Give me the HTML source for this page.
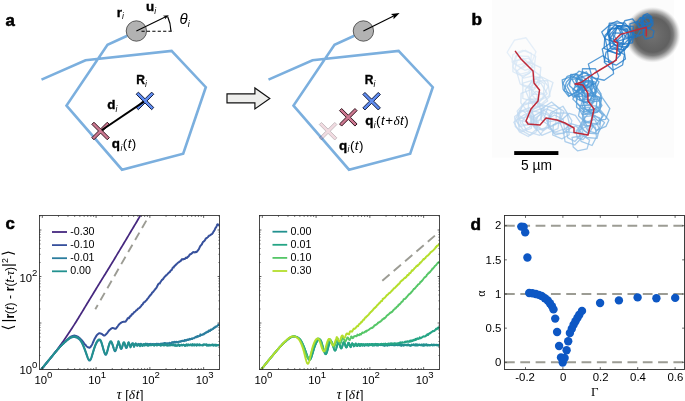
<!DOCTYPE html>
<html><head><meta charset="utf-8"><title>figure</title>
<style>html,body{margin:0;padding:0;background:#fff}svg{display:block}</style>
</head><body>
<svg width="685" height="401" viewBox="0 0 685 401">
<rect width="685" height="401" fill="#fff"/>
<polyline points="41.5,79.6 85.5,60.2 171.6,50.9 205.8,87.2 183.2,153.7 122,169.7 66.5,105.6 107.5,44.8 127.3,35.8" fill="none" stroke="#7bafde" stroke-width="2.6" stroke-linejoin="miter"/>
<circle cx="136.4" cy="31" r="10.2" fill="#b2b2b2" stroke="#3a3a3a" stroke-width="0.8"/>
<polyline points="268.5,79.6 312.5,60.2 398.6,50.9 432.8,87.2 410.2,153.7 349,169.7 293.5,105.6 334.5,44.8 354.3,35.8" fill="none" stroke="#7bafde" stroke-width="2.6" stroke-linejoin="miter"/>
<circle cx="363.4" cy="31" r="10.2" fill="#b2b2b2" stroke="#3a3a3a" stroke-width="0.8"/>
<line x1="136.4" y1="31" x2="165.2" y2="16.95" stroke="#000" stroke-width="1.05"/><polygon points="168.8,15.2 164.82,19.59 165.2,16.95 162.89,15.63" fill="#000"/>
<line x1="141.5" y1="31.2" x2="174" y2="31.2" stroke="#000" stroke-width="1.1" stroke-dasharray="3.2,2.2"/>
<path d="M167.6,16.5 Q170.6,23 171,31.2" fill="none" stroke="#000" stroke-width="1.2"/>
<line x1="363.4" y1="31" x2="393.6" y2="15.98" stroke="#000" stroke-width="1.2"/><polygon points="399.6,13 393.55,19.25 393.6,15.98 390.97,14.05" fill="#000"/>
<polygon points="107.25,122.23 109.37,124.35 102.72,131 109.37,137.65 107.25,139.77 100.6,133.12 93.95,139.77 91.83,137.65 98.48,131 91.83,124.35 93.95,122.23 100.6,128.88" fill="#cc7890" stroke="#2c0e18" stroke-width="0.95" stroke-linejoin="miter" opacity="1.0"/>
<polygon points="151.65,92.13 153.77,94.25 147.12,100.9 153.77,107.55 151.65,109.67 145,103.02 138.35,109.67 136.23,107.55 142.88,100.9 136.23,94.25 138.35,92.13 145,98.78" fill="#5f8cf0" stroke="#0e1738" stroke-width="0.95" stroke-linejoin="miter" opacity="1.0"/>
<line x1="101.6" y1="130.3" x2="144" y2="101.6" stroke="#000" stroke-width="1.9"/>
<polygon points="334.75,122.43 336.87,124.55 330.22,131.2 336.87,137.85 334.75,139.97 328.1,133.32 321.45,139.97 319.33,137.85 325.98,131.2 319.33,124.55 321.45,122.43 328.1,129.08" fill="#cc7890" stroke="#2c0e18" stroke-width="0.95" stroke-linejoin="miter" opacity="0.27"/>
<polygon points="354.95,108.53 357.07,110.65 350.42,117.3 357.07,123.95 354.95,126.07 348.3,119.42 341.65,126.07 339.53,123.95 346.18,117.3 339.53,110.65 341.65,108.53 348.3,115.18" fill="#cc7890" stroke="#2c0e18" stroke-width="0.95" stroke-linejoin="miter" opacity="1.0"/>
<polygon points="378.25,92.43 380.37,94.55 373.72,101.2 380.37,107.85 378.25,109.97 371.6,103.32 364.95,109.97 362.83,107.85 369.48,101.2 362.83,94.55 364.95,92.43 371.6,99.08" fill="#5f8cf0" stroke="#0e1738" stroke-width="0.95" stroke-linejoin="miter" opacity="1.0"/>
<polygon points="227,93.9 254.9,93.9 254.9,87.9 269.8,98.4 254.9,108.9 254.9,102.9 227,102.9" fill="#eeeeec" stroke="#111" stroke-width="1.2"/>
<text x="5.4" y="25.7" font-family='"Liberation Sans", sans-serif' font-size="16.8" font-weight="bold" font-style="normal" text-anchor="start" stroke="#000" stroke-width="0.55">a</text>
<text x="471.4" y="25.4" font-family='"Liberation Sans", sans-serif' font-size="17.2" font-weight="bold" font-style="normal" text-anchor="start" stroke="#000" stroke-width="0.55">b</text>
<text x="5.4" y="229.2" font-family='"Liberation Sans", sans-serif' font-size="16.8" font-weight="bold" font-style="normal" text-anchor="start" stroke="#000" stroke-width="0.55">c</text>
<text x="470.6" y="229.7" font-family='"Liberation Sans", sans-serif' font-size="17.2" font-weight="bold" font-style="normal" text-anchor="start" stroke="#000" stroke-width="0.55">d</text>
<text x="116.8" y="16.5" font-family='"Liberation Sans", sans-serif' font-size="13.4" font-weight="bold" font-style="normal" text-anchor="start" ><tspan stroke="#000" stroke-width="0.35">r</tspan><tspan font-weight="normal" font-style="italic" font-size="8.5" dy="2.8">i</tspan></text>
<text x="146" y="11.3" font-family='"Liberation Sans", sans-serif' font-size="13.4" font-weight="bold" font-style="normal" text-anchor="start" ><tspan stroke="#000" stroke-width="0.35">u</tspan><tspan font-weight="normal" font-style="italic" font-size="8.5" dy="2.8">i</tspan></text>
<text x="179.5" y="24" font-family='"Liberation Sans", sans-serif' font-size="15" font-weight="normal" font-style="italic" text-anchor="start" >θ<tspan font-size="9" dy="3">i</tspan></text>
<text x="136.3" y="84" font-family='"Liberation Sans", sans-serif' font-size="12" font-weight="bold" font-style="normal" text-anchor="start" ><tspan stroke="#000" stroke-width="0.35">R</tspan><tspan font-weight="normal" font-style="italic" font-size="8.5" dy="2.8">i</tspan></text>
<text x="107.2" y="109.2" font-family='"Liberation Sans", sans-serif' font-size="13.4" font-weight="bold" font-style="normal" text-anchor="start" ><tspan stroke="#000" stroke-width="0.35">d</tspan><tspan font-weight="normal" font-style="italic" font-size="8.5" dy="2.8">i</tspan></text>
<text x="111.8" y="148.3" font-family='"Liberation Sans", sans-serif' font-size="13.4" font-weight="bold" font-style="normal" text-anchor="start" letter-spacing="0.4"><tspan stroke="#000" stroke-width="0.35">q</tspan><tspan font-weight="normal" font-style="italic" font-size="8.5" dy="2.8">i</tspan><tspan dy="-2.8" font-weight="normal" letter-spacing="0.5">(</tspan><tspan font-weight="normal" font-style="italic">t</tspan><tspan font-weight="normal">)</tspan></text>
<text x="364.8" y="84" font-family='"Liberation Sans", sans-serif' font-size="12" font-weight="bold" font-style="normal" text-anchor="start" ><tspan stroke="#000" stroke-width="0.35">R</tspan><tspan font-weight="normal" font-style="italic" font-size="8.5" dy="2.8">i</tspan></text>
<text x="365.2" y="125" font-family='"Liberation Sans", sans-serif' font-size="13.4" font-weight="bold" font-style="normal" text-anchor="start" letter-spacing="0.4"><tspan stroke="#000" stroke-width="0.35">q</tspan><tspan font-weight="normal" font-style="italic" font-size="8.5" dy="2.8">i</tspan><tspan dy="-2.8" font-weight="normal" letter-spacing="0.5">(</tspan><tspan font-weight="normal" font-style="italic">t</tspan><tspan font-weight="normal">+</tspan><tspan font-weight="normal" font-style="italic" font-family='"Liberation Serif", serif'>δ</tspan><tspan font-weight="normal" font-style="italic">t</tspan><tspan font-weight="normal">)</tspan></text>
<text x="339" y="149.5" font-family='"Liberation Sans", sans-serif' font-size="13.4" font-weight="bold" font-style="normal" text-anchor="start" letter-spacing="0.4"><tspan stroke="#000" stroke-width="0.35">q</tspan><tspan font-weight="normal" font-style="italic" font-size="8.5" dy="2.8">i</tspan><tspan dy="-2.8" font-weight="normal" letter-spacing="0.5">(</tspan><tspan font-weight="normal" font-style="italic">t</tspan><tspan font-weight="normal">)</tspan></text>
<rect x="492" y="0" width="182" height="157.5" fill="#fcfcfc"/>
<defs><radialGradient id="gb" cx="50%" cy="50%" r="50%"><stop offset="0" stop-color="#727272"/><stop offset="0.4" stop-color="#666666"/><stop offset="0.62" stop-color="#606060"/><stop offset="0.74" stop-color="#707070" stop-opacity="0.92"/><stop offset="0.87" stop-color="#969696" stop-opacity="0.6"/><stop offset="1" stop-color="#c8c8c8" stop-opacity="0"/></radialGradient></defs>
<circle cx="652.6" cy="34.8" r="28" fill="url(#gb)"/>
<polygon points="532.24,61.21 516.56,65.53 507.12,52.26 514.47,40.1 526.05,37.76 536.03,51.84" fill="none" stroke="rgb(222,235,247)" stroke-width="1.3" stroke-linejoin="round" stroke-opacity="0.8"/>
<polygon points="530.68,62.94 521.99,68.76 511.95,61.99 512.91,54.51 522.74,50.41 531.36,53.39" fill="none" stroke="rgb(220,234,246)" stroke-width="1.3" stroke-linejoin="round" stroke-opacity="0.8"/>
<polygon points="534.21,66.93 525.07,70.45 514.8,63.67 516.87,54 525.34,50.23 535.65,56.25" fill="none" stroke="rgb(218,233,246)" stroke-width="1.3" stroke-linejoin="round" stroke-opacity="0.8"/>
<polygon points="528.38,72.05 518.35,74.69 512.75,66.87 515.67,55.92 528.48,56.29 532.77,64.58" fill="none" stroke="rgb(217,232,246)" stroke-width="1.3" stroke-linejoin="round" stroke-opacity="0.8"/>
<polygon points="534.16,75.62 523.68,78.2 515,68.78 517.19,60.33 528.65,58.21 534.8,64.84" fill="none" stroke="rgb(216,231,246)" stroke-width="1.3" stroke-linejoin="round" stroke-opacity="0.8"/>
<polygon points="529.31,73.47 521.93,75.94 512.93,71.77 512.91,61.51 523.1,58.43 532.54,66.56" fill="none" stroke="rgb(214,230,245)" stroke-width="1.3" stroke-linejoin="round" stroke-opacity="0.8"/>
<polygon points="540.03,76.34 534.35,88.07 520.27,84.1 516.44,71.16 528.76,62.11 540.81,67.64" fill="none" stroke="rgb(211,228,244)" stroke-width="1.3" stroke-linejoin="round" stroke-opacity="0.8"/>
<polygon points="539.16,84.01 533.54,90.04 522.27,85.29 522.32,77.74 533.15,70.16 540.42,75.87" fill="none" stroke="rgb(209,227,244)" stroke-width="1.3" stroke-linejoin="round" stroke-opacity="0.8"/>
<polygon points="548.27,86.53 544.05,94.21 533.17,94.46 529.16,85.61 534.14,76.76 541.78,77.78" fill="none" stroke="rgb(208,226,244)" stroke-width="1.3" stroke-linejoin="round" stroke-opacity="0.8"/>
<polygon points="543,97.65 535.15,102.16 522.82,98.39 522.91,83.07 536.6,79.09 544.54,83.73" fill="none" stroke="rgb(207,226,243)" stroke-width="1.3" stroke-linejoin="round" stroke-opacity="0.8"/>
<polygon points="548.91,96.03 537.56,101.52 531.24,93.97 532.73,79.71 541.25,76.72 552.99,82.49" fill="none" stroke="rgb(207,226,243)" stroke-width="1.3" stroke-linejoin="round" stroke-opacity="0.8"/>
<polygon points="549.98,96.34 541.27,104.13 529.9,98.64 529.03,87.37 539.62,80.9 547.66,80.69" fill="none" stroke="rgb(206,225,243)" stroke-width="1.3" stroke-linejoin="round" stroke-opacity="0.8"/>
<polygon points="547.16,93.53 538.13,103.3 530.05,101.5 525.22,89.73 532.44,81.2 540.88,83.27" fill="none" stroke="rgb(204,224,243)" stroke-width="1.3" stroke-linejoin="round" stroke-opacity="0.8"/>
<polygon points="547.68,100.94 539.11,106.61 533.02,105.7 529.5,97.9 535.75,91.35 543.67,93.96" fill="none" stroke="rgb(203,223,243)" stroke-width="1.3" stroke-linejoin="round" stroke-opacity="0.8"/>
<polygon points="537.67,106.03 527.3,111.04 520.87,102.86 521.11,93.27 531.4,89.51 537.17,94.86" fill="none" stroke="rgb(201,222,242)" stroke-width="1.3" stroke-linejoin="round" stroke-opacity="0.8"/>
<polygon points="541.41,111.75 533.37,123.72 519.96,120.29 517.19,111.19 527.28,99.51 537.64,98.83" fill="none" stroke="rgb(200,221,242)" stroke-width="1.3" stroke-linejoin="round" stroke-opacity="0.8"/>
<polygon points="540.09,114.73 535.28,118.31 527.81,114.93 528.71,101.97 535.22,101.38 544.5,107.29" fill="none" stroke="rgb(199,221,242)" stroke-width="1.3" stroke-linejoin="round" stroke-opacity="0.8"/>
<polygon points="540.42,119.67 529.43,123.84 519.03,115.19 522.2,105.58 536.66,100.85 544.22,108.18" fill="none" stroke="rgb(198,220,241)" stroke-width="1.3" stroke-linejoin="round" stroke-opacity="0.8"/>
<polygon points="543.4,114.5 535.73,124.8 521.15,124.53 517.73,113.85 524.28,103.15 537.22,103.17" fill="none" stroke="rgb(197,220,241)" stroke-width="1.3" stroke-linejoin="round" stroke-opacity="0.8"/>
<polygon points="531.85,123.88 519.5,126.68 515.56,119.04 519.63,111.57 529.71,107.53 533.8,115.2" fill="none" stroke="rgb(195,219,241)" stroke-width="1.3" stroke-linejoin="round" stroke-opacity="0.8"/>
<polygon points="531.18,128.51 521.47,131.95 515.31,126.41 514.7,116.5 523,110.7 531.94,118.59" fill="none" stroke="rgb(194,218,241)" stroke-width="1.3" stroke-linejoin="round" stroke-opacity="0.8"/>
<polygon points="529.32,127.34 523.41,130.02 516.74,121.38 519.92,110.44 530.92,111.88 535.88,118.74" fill="none" stroke="rgb(194,217,240)" stroke-width="1.3" stroke-linejoin="round" stroke-opacity="0.8"/>
<polygon points="536.03,132.03 530.11,135.38 519.06,128.92 518.34,119.22 527.8,116.41 538.25,122.68" fill="none" stroke="rgb(193,217,240)" stroke-width="1.3" stroke-linejoin="round" stroke-opacity="0.8"/>
<polygon points="537.23,128.48 528.33,136.48 519.46,131.87 513.74,122.28 524.49,114.55 533.21,116.34" fill="none" stroke="rgb(192,216,240)" stroke-width="1.3" stroke-linejoin="round" stroke-opacity="0.8"/>
<polygon points="548.36,123.86 539.76,135.37 526.98,131.33 521.93,121.51 530.18,110.39 542.93,113.12" fill="none" stroke="rgb(191,216,240)" stroke-width="1.3" stroke-linejoin="round" stroke-opacity="0.8"/>
<polygon points="548.22,127.17 536.58,130.4 530.58,122.54 530.58,112.79 541.65,108.4 548.95,114.18" fill="none" stroke="rgb(189,215,239)" stroke-width="1.3" stroke-linejoin="round" stroke-opacity="0.8"/>
<polygon points="550.15,126.3 543.16,130.7 536.23,124.49 537.13,116.81 543.37,112.79 550.61,116.33" fill="none" stroke="rgb(185,213,238)" stroke-width="1.3" stroke-linejoin="round" stroke-opacity="0.8"/>
<polygon points="555.69,124.56 541.07,129.81 531.12,123.4 532.51,109.6 542.96,104.84 556.82,109.5" fill="none" stroke="rgb(184,212,238)" stroke-width="1.3" stroke-linejoin="round" stroke-opacity="0.8"/>
<polygon points="557.98,128.53 541.82,135.4 533.83,125.74 533.42,116.17 546.43,108.85 560.08,114.46" fill="none" stroke="rgb(178,209,237)" stroke-width="1.3" stroke-linejoin="round" stroke-opacity="0.8"/>
<polygon points="560.49,119.4 548.74,121.84 544.06,117.66 548.2,106.68 554.4,104.79 563.93,111.39" fill="none" stroke="rgb(177,208,237)" stroke-width="1.3" stroke-linejoin="round" stroke-opacity="0.8"/>
<polygon points="560.41,120.77 550.74,126.59 541.02,119.82 541.31,109.03 551.6,101.97 560.94,110.02" fill="none" stroke="rgb(173,206,236)" stroke-width="1.3" stroke-linejoin="round" stroke-opacity="0.8"/>
<polygon points="564.47,128.76 555.36,132.09 548.64,128.45 547.62,119.25 554.54,114.98 563.14,119.53" fill="none" stroke="rgb(170,204,235)" stroke-width="1.3" stroke-linejoin="round" stroke-opacity="0.8"/>
<polygon points="569.23,123.33 563.97,133.65 553.59,132.86 547.2,121.48 552.58,113.18 566.81,112.82" fill="none" stroke="rgb(168,203,235)" stroke-width="1.3" stroke-linejoin="round" stroke-opacity="0.8"/>
<polygon points="569.01,131.31 555.38,134.83 547.47,124.19 550.54,112.95 562.89,106.2 571.83,120.59" fill="none" stroke="rgb(164,201,234)" stroke-width="1.3" stroke-linejoin="round" stroke-opacity="0.8"/>
<polygon points="569.19,134.74 561.88,138.84 552.73,135 553.3,124.62 561.61,122.43 568.18,125.64" fill="none" stroke="rgb(158,198,233)" stroke-width="1.3" stroke-linejoin="round" stroke-opacity="0.8"/>
<polygon points="582.1,125.16 575.93,132.91 563.66,131.63 559.64,121.66 569.06,113.35 575.37,115.42" fill="none" stroke="rgb(154,195,232)" stroke-width="1.3" stroke-linejoin="round" stroke-opacity="0.8"/>
<polygon points="583.64,136.04 574.7,144.92 565.09,141.56 563.19,130.51 570.82,123.72 581.16,126.56" fill="none" stroke="rgb(150,193,231)" stroke-width="1.3" stroke-linejoin="round" stroke-opacity="0.8"/>
<polygon points="581.08,134.49 574.85,141.47 567.62,137.58 566.5,129.98 575.53,125.99 578.41,128.05" fill="none" stroke="rgb(148,192,231)" stroke-width="1.3" stroke-linejoin="round" stroke-opacity="0.8"/>
<polygon points="587.06,148.88 577.49,150.81 573.21,146.98 572.08,137.49 582.84,135.7 589.6,140.05" fill="none" stroke="rgb(144,190,230)" stroke-width="1.3" stroke-linejoin="round" stroke-opacity="0.8"/>
<polygon points="589.07,132.93 583.05,139.63 577.25,137.94 576.14,131.04 581.83,124.26 587.65,126.22" fill="none" stroke="rgb(139,187,229)" stroke-width="1.3" stroke-linejoin="round" stroke-opacity="0.8"/>
<polygon points="596.43,136.94 592.08,145.5 581.1,141.4 578.46,130.77 587.19,125.92 595.42,127.18" fill="none" stroke="rgb(138,187,229)" stroke-width="1.3" stroke-linejoin="round" stroke-opacity="0.8"/>
<polygon points="596.93,138.47 586.77,137.52 579.58,130.87 584.53,122.92 594.6,119.42 599.52,128.84" fill="none" stroke="rgb(132,183,227)" stroke-width="1.3" stroke-linejoin="round" stroke-opacity="0.8"/>
<polygon points="593.11,126.32 589.21,133.24 583.99,130.88 580.99,125.13 584.59,120.72 591.5,122.6" fill="none" stroke="rgb(130,182,227)" stroke-width="1.3" stroke-linejoin="round" stroke-opacity="0.8"/>
<polygon points="600.15,126.83 595.07,132.78 588,130.86 582.63,121.2 587.99,113.98 599.82,117.81" fill="none" stroke="rgb(125,179,226)" stroke-width="1.3" stroke-linejoin="round" stroke-opacity="0.8"/>
<polygon points="597.51,133.77 587.23,133.14 579.74,125.99 584.84,116.57 594.94,115.47 604.53,122.56" fill="none" stroke="rgb(121,177,225)" stroke-width="1.3" stroke-linejoin="round" stroke-opacity="0.8"/>
<polygon points="591.34,122.12 584.99,122.08 578.51,115.83 579.92,108.93 589.03,107.37 594.04,115.57" fill="none" stroke="rgb(118,176,224)" stroke-width="1.3" stroke-linejoin="round" stroke-opacity="0.8"/>
<polygon points="606.02,126.3 596.16,130.34 590.5,122.46 592.9,112.69 600.92,110.77 608.83,120.29" fill="none" stroke="rgb(115,174,223)" stroke-width="1.3" stroke-linejoin="round" stroke-opacity="0.8"/>
<polygon points="602.32,115.29 599.74,124.06 586.02,122.71 582.38,114.27 585.31,105.47 596.88,106.05" fill="none" stroke="rgb(109,171,222)" stroke-width="1.3" stroke-linejoin="round" stroke-opacity="0.8"/>
<polygon points="596.24,124.53 587.09,125.91 582.34,117.81 584.25,109.55 595.74,109.53 604.02,114.85" fill="none" stroke="rgb(106,169,221)" stroke-width="1.3" stroke-linejoin="round" stroke-opacity="0.8"/>
<polygon points="605.61,119.35 597.2,120.32 588.56,110.05 594.95,99.83 602.45,97.86 609.87,108.58" fill="none" stroke="rgb(103,167,220)" stroke-width="1.3" stroke-linejoin="round" stroke-opacity="0.8"/>
<polygon points="600.58,106.75 591.44,113.48 585.74,109.43 582.35,99.84 590.32,94.84 599.03,96.87" fill="none" stroke="rgb(99,165,220)" stroke-width="1.3" stroke-linejoin="round" stroke-opacity="0.8"/>
<polygon points="597.35,112.42 582.54,114.97 579.29,109.5 584.43,95.65 592.83,92.12 601.98,105.43" fill="none" stroke="rgb(95,163,219)" stroke-width="1.3" stroke-linejoin="round" stroke-opacity="0.8"/>
<polygon points="600.17,110.15 592.21,113.88 582.24,106.9 585.3,96.72 593.41,95.17 601.34,98.43" fill="none" stroke="rgb(94,162,218)" stroke-width="1.3" stroke-linejoin="round" stroke-opacity="0.8"/>
<polygon points="596.13,108.21 585.53,113.84 576.6,107.2 576.65,94.9 585.72,89.46 597.27,96.48" fill="none" stroke="rgb(90,160,217)" stroke-width="1.3" stroke-linejoin="round" stroke-opacity="0.8"/>
<polygon points="599.13,106.95 584.97,111.87 576.11,102.38 580.33,88.8 591.7,85.59 601.79,96.33" fill="none" stroke="rgb(88,159,217)" stroke-width="1.3" stroke-linejoin="round" stroke-opacity="0.8"/>
<polygon points="591.03,104.38 580.18,105.94 572.78,99.14 579.35,87.68 589.39,87.25 594.11,98.79" fill="none" stroke="rgb(85,157,216)" stroke-width="1.3" stroke-linejoin="round" stroke-opacity="0.8"/>
<polygon points="594.31,97.24 587,101.84 579.88,100.34 578.52,90.76 582.69,86.51 590.39,86.92" fill="none" stroke="rgb(83,156,216)" stroke-width="1.3" stroke-linejoin="round" stroke-opacity="0.8"/>
<polygon points="599.08,100.83 589.2,102.39 583.45,92.3 588.42,83.18 593.39,82.12 601.12,94.17" fill="none" stroke="rgb(80,154,215)" stroke-width="1.3" stroke-linejoin="round" stroke-opacity="0.8"/>
<polygon points="590.46,99.45 582.98,99.91 581.86,93.47 584.64,86.58 590.13,88.11 593.35,93.61" fill="none" stroke="rgb(79,154,215)" stroke-width="1.3" stroke-linejoin="round" stroke-opacity="0.8"/>
<polygon points="597.08,90.63 594.18,96.63 585.1,94.83 580.66,85.65 585.22,80.78 595.2,81.84" fill="none" stroke="rgb(74,151,214)" stroke-width="1.3" stroke-linejoin="round" stroke-opacity="0.8"/>
<polygon points="595.33,91.94 587.34,103.43 576.59,98.68 572.69,89.63 581.87,81.63 592.95,83.55" fill="none" stroke="rgb(73,150,213)" stroke-width="1.3" stroke-linejoin="round" stroke-opacity="0.8"/>
<polygon points="595.21,99.04 584.11,102.99 576.8,94.69 579.09,82.47 588.96,80.65 595.92,87.85" fill="none" stroke="rgb(71,149,213)" stroke-width="1.3" stroke-linejoin="round" stroke-opacity="0.8"/>
<polygon points="593.74,86.42 589.64,94.31 582.08,92.08 578.97,87.16 583.11,81.1 591.4,80.65" fill="none" stroke="rgb(70,148,212)" stroke-width="1.3" stroke-linejoin="round" stroke-opacity="0.8"/>
<polygon points="594.68,92.23 585.13,96.97 573.83,89.16 578.2,77.88 589.92,74.73 598.98,81.71" fill="none" stroke="rgb(69,148,212)" stroke-width="1.3" stroke-linejoin="round" stroke-opacity="0.8"/>
<polygon points="590.6,89.84 582.01,90.49 577.11,85.13 576.89,76.72 586.39,71.75 592.75,81.38" fill="none" stroke="rgb(68,147,212)" stroke-width="1.3" stroke-linejoin="round" stroke-opacity="0.8"/>
<polygon points="582.18,96.2 573.03,97.01 566.97,86.08 571.1,79.29 579.67,78.67 585.9,85.77" fill="none" stroke="rgb(66,146,211)" stroke-width="1.3" stroke-linejoin="round" stroke-opacity="0.8"/>
<polygon points="582.51,92.51 575.07,95.8 564.15,90.76 566.36,82.26 572.37,75.73 581.93,80.93" fill="none" stroke="rgb(65,145,211)" stroke-width="1.3" stroke-linejoin="round" stroke-opacity="0.8"/>
<polygon points="580.38,89.41 568.78,96.5 563.13,89.28 562.21,79.94 570.99,76.72 580.76,80.14" fill="none" stroke="rgb(64,145,210)" stroke-width="1.3" stroke-linejoin="round" stroke-opacity="0.8"/>
<polygon points="578.08,91.62 569.08,95.74 563.03,83.04 567.22,76.39 575.85,73.52 583.97,83.26" fill="none" stroke="rgb(63,144,210)" stroke-width="1.3" stroke-linejoin="round" stroke-opacity="0.8"/>
<polygon points="584.57,84.55 575.64,91.26 569.6,85.78 570.81,74.37 578.63,75.01 586.19,79.19" fill="none" stroke="rgb(62,143,210)" stroke-width="1.3" stroke-linejoin="round" stroke-opacity="0.8"/>
<polygon points="588.68,83.77 582.8,87.75 576.41,86.57 571.67,78.8 578.87,71.23 588.08,74.25" fill="none" stroke="rgb(61,142,209)" stroke-width="1.3" stroke-linejoin="round" stroke-opacity="0.8"/>
<polygon points="593.28,84.08 583.67,90.65 577.94,85.96 575.57,80.33 582.9,71.72 591.28,75.87" fill="none" stroke="rgb(58,140,208)" stroke-width="1.3" stroke-linejoin="round" stroke-opacity="0.8"/>
<polygon points="595.6,83.67 584.87,85.8 581.82,78.68 582.52,68.67 595.44,68.73 598.75,76.33" fill="none" stroke="rgb(52,136,206)" stroke-width="1.3" stroke-linejoin="round" stroke-opacity="0.8"/>
<polygon points="613.58,73.72 604.22,80.24 592.22,77.68 588.37,64.06 602.62,55.73 612.28,62.23" fill="none" stroke="rgb(44,130,204)" stroke-width="1.3" stroke-linejoin="round" stroke-opacity="0.8"/>
<polygon points="622.58,64.95 612.98,70.22 604.27,62.15 606.06,52.14 614.74,48.63 624.45,54.79" fill="none" stroke="rgb(35,124,201)" stroke-width="1.3" stroke-linejoin="round" stroke-opacity="0.8"/>
<polygon points="620.31,55.06 613.12,62.66 604.72,61.1 602.23,48.99 610.62,42.75 617.8,46.16" fill="none" stroke="rgb(32,122,200)" stroke-width="1.3" stroke-linejoin="round" stroke-opacity="0.8"/>
<polygon points="625.46,59.06 616.23,65.19 608.84,62.6 607.39,50.58 613.98,44.67 623.54,47.92" fill="none" stroke="rgb(32,121,200)" stroke-width="1.3" stroke-linejoin="round" stroke-opacity="0.8"/>
<polygon points="623.59,42.6 620.73,49.93 610.66,48.33 609.02,40.85 613.39,32.93 622.17,33.25" fill="none" stroke="rgb(31,120,199)" stroke-width="1.3" stroke-linejoin="round" stroke-opacity="0.8"/>
<polygon points="629.95,41.86 618.82,54.38 604.07,48.43 604.92,35.35 614.81,25.29 626.96,28.62" fill="none" stroke="rgb(31,120,199)" stroke-width="1.3" stroke-linejoin="round" stroke-opacity="0.8"/>
<polygon points="628.88,45.1 619.82,54.29 607.89,50.91 604.98,37.43 612.03,27.77 627.87,29.81" fill="none" stroke="rgb(31,120,199)" stroke-width="1.3" stroke-linejoin="round" stroke-opacity="0.8"/>
<polygon points="630.52,37.38 624.01,43.99 614.05,41.37 612.97,33.3 618.58,26.17 626.22,30.89" fill="none" stroke="rgb(31,120,199)" stroke-width="1.3" stroke-linejoin="round" stroke-opacity="0.8"/>
<polygon points="622.52,35.56 615.13,42.2 605.05,38.96 601.72,32.03 609.04,25.57 616.2,24.46" fill="none" stroke="rgb(31,120,199)" stroke-width="1.3" stroke-linejoin="round" stroke-opacity="0.8"/>
<polygon points="633.58,36.46 624.34,50.3 610.3,46.18 609.83,34.96 617.32,25.82 633.36,26.46" fill="none" stroke="rgb(31,119,199)" stroke-width="1.3" stroke-linejoin="round" stroke-opacity="0.8"/>
<polygon points="622.26,42.39 616.05,46.08 608.96,38.45 608.19,29.96 618.45,27.87 627.44,32.31" fill="none" stroke="rgb(30,119,198)" stroke-width="1.3" stroke-linejoin="round" stroke-opacity="0.8"/>
<polygon points="627.53,47.22 615.44,45.46 607.29,34.01 609.34,23.22 624.91,22.79 633.09,33.46" fill="none" stroke="rgb(30,119,198)" stroke-width="1.3" stroke-linejoin="round" stroke-opacity="0.8"/>
<polygon points="631.16,37.2 618.19,41.23 609.65,37.76 609.94,24.43 617.18,21.02 629.49,27.49" fill="none" stroke="rgb(30,119,198)" stroke-width="1.3" stroke-linejoin="round" stroke-opacity="0.8"/>
<polygon points="632.44,42.75 619.61,44.99 614.43,36.28 617.34,25.58 627.94,25.82 633.87,35.17" fill="none" stroke="rgb(30,118,198)" stroke-width="1.3" stroke-linejoin="round" stroke-opacity="0.8"/>
<polygon points="636.38,37.17 625.68,37.14 620.51,29.3 624.73,20.75 632.56,18.99 640.71,29.38" fill="none" stroke="rgb(29,117,197)" stroke-width="1.3" stroke-linejoin="round" stroke-opacity="0.8"/>
<polygon points="643.4,33.89 638.18,36.14 630.89,32.25 629.84,23.95 637.53,21.61 642.96,24.43" fill="none" stroke="rgb(29,117,197)" stroke-width="1.3" stroke-linejoin="round" stroke-opacity="0.8"/>
<polygon points="650.21,22.35 646.26,23.76 642,21.86 643.22,15.28 647.49,13.68 651.76,16.77" fill="none" stroke="rgb(29,116,197)" stroke-width="1.3" stroke-linejoin="round" stroke-opacity="0.8"/>
<polygon points="647.86,23.1 644.56,27.04 639.43,27.24 637.04,22.2 640.36,17.64 644.3,19.05" fill="none" stroke="rgb(28,116,196)" stroke-width="1.3" stroke-linejoin="round" stroke-opacity="0.8"/>
<polygon points="652.29,23.1 650.15,27.61 642.95,27.54 640.56,22.93 643.77,18.23 648.46,17.86" fill="none" stroke="rgb(28,116,196)" stroke-width="1.3" stroke-linejoin="round" stroke-opacity="0.8"/>
<polygon points="651.51,22.14 646.08,26 642.96,24.47 640.26,18.89 645.03,14.94 650.43,16.46" fill="none" stroke="rgb(28,115,196)" stroke-width="1.3" stroke-linejoin="round" stroke-opacity="0.8"/>
<polygon points="652.95,25.08 648.74,28.88 643.12,25.57 643.35,17.65 647.25,16.5 652.72,19.68" fill="none" stroke="rgb(28,115,196)" stroke-width="1.3" stroke-linejoin="round" stroke-opacity="0.8"/>
<polygon points="652.78,37.11 645.17,39.08 643.29,34.89 644.31,29.06 649.3,27.92 653.98,31.01" fill="none" stroke="rgb(28,115,196)" stroke-width="1.3" stroke-linejoin="round" stroke-opacity="0.8"/>
<polyline points="515.4,51.4 521,59 533,71 534,83 539.5,90 538,101 531,109 526,121 528,124 540,125 546,118 557,120 565,123 574,128 574,132.5 588,135 591,123 594,109 588,101 587.8,93 582.8,85 575,84 581,82.5 594.8,73 616.2,60.2 617.6,43 613.9,41 620.5,34.4 646.3,27.2 646.3,35.8" fill="none" stroke="#bd2a3a" stroke-width="1.5" stroke-linejoin="round" stroke-linecap="round"/>
<rect x="514.2" y="151.1" width="44.2" height="3.9" fill="#000"/>
<text x="536.4" y="170.4" font-family='"Liberation Sans", sans-serif' font-size="13.8" font-weight="normal" font-style="normal" text-anchor="middle" >5 µm</text>
<defs><clipPath id="cl"><rect x="39.5" y="215.5" width="180" height="154"/></clipPath><clipPath id="cr"><rect x="259.5" y="215.5" width="180" height="154"/></clipPath></defs>
<polyline points="41.3,369.4 42.3,368.24 43.3,367.07 44.3,365.88 45.3,364.69 46.3,363.48 47.3,362.26 48.3,361.03 49.3,359.78 50.3,358.53 51.3,357.27 52.3,356 53.3,354.71 54.3,353.42 55.3,352.12 56.3,350.8 57.3,349.47 58.3,348.12 59.3,346.76 60.3,345.38 61.3,343.99 62.3,342.57 63.3,341.15 64.3,339.71 65.3,338.25 66.3,336.78 67.3,335.3 68.3,333.8 69.3,332.29 70.3,330.77 71.3,329.24 72.3,327.7 73.3,326.15 74.3,324.6 75.3,323.03 76.3,321.44 77.3,319.83 78.3,318.21 79.3,316.56 80.3,314.91 81.3,313.25 82.3,311.59 83.3,309.93 84.3,308.27 85.3,306.62 86.3,304.97 87.3,303.33 88.3,301.69 89.3,300.05 90.3,298.4 91.3,296.76 92.3,295.11 93.3,293.47 94.3,291.83 95.3,290.19 96.3,288.55 97.3,286.91 98.3,285.27 99.3,283.64 100.3,282.01 101.3,280.39 102.3,278.77 103.3,277.16 104.3,275.54 105.3,273.93 106.3,272.32 107.3,270.7 108.3,269.08 109.3,267.45 110.3,265.81 111.3,264.16 112.3,262.5 113.3,260.84 114.3,259.18 115.3,257.51 116.3,255.84 117.3,254.17 118.3,252.5 119.3,250.83 120.3,249.17 121.3,247.5 122.3,245.84 123.3,244.18 124.3,242.51 125.3,240.85 126.3,239.18 127.3,237.51 128.3,235.84 129.3,234.17 130.3,232.5 131.3,230.82 132.3,229.15 133.3,227.47 134.3,225.8 135.3,224.12 136.3,222.43 137.3,220.75 138.3,219.06 139.3,217.37 140.3,215.67 141.3,213.97 142.3,212.26 143.3,210.55 144.3,208.84 145.3,207.12 146.3,205.4 147.3,203.67 148.3,201.95 149.3,200.21" fill="none" stroke="#46287f" stroke-width="1.75" stroke-linejoin="round" clip-path="url(#cl)"/>
<line x1="146.3" y1="220.6" x2="95.3" y2="309.2" stroke="#9c9c94" stroke-width="1.9" stroke-dasharray="8.5,5.4"/>
<polyline points="41.3,369.4 41.7,368.9 42.1,368.4 42.5,367.9 42.9,367.4 43.3,366.9 43.7,366.41 44.1,365.91 44.5,365.42 44.9,364.92 45.3,364.43 45.7,363.94 46.1,363.45 46.5,362.96 46.9,362.48 47.3,361.99 47.7,361.5 48.1,361.02 48.5,360.53 48.9,360.05 49.3,359.56 49.7,359.08 50.1,358.6 50.5,358.11 50.9,357.63 51.3,357.15 51.7,356.66 52.1,356.18 52.5,355.69 52.9,355.2 53.3,354.71 53.7,354.21 54.1,353.71 54.5,353.22 54.9,352.72 55.3,352.22 55.7,351.73 56.1,351.24 56.5,350.75 56.9,350.26 57.3,349.79 57.7,349.31 58.1,348.85 58.5,348.39 58.9,347.94 59.3,347.5 59.7,347.07 60.1,346.64 60.5,346.21 60.9,345.78 61.3,345.36 61.7,344.94 62.1,344.53 62.5,344.12 62.9,343.71 63.3,343.31 63.7,342.91 64.1,342.52 64.5,342.13 64.9,341.75 65.3,341.37 65.7,340.99 66.1,340.62 66.5,340.26 66.9,339.9 67.3,339.55 67.7,339.2 68.1,338.85 68.5,338.48 68.9,338.12 69.3,337.77 69.7,337.43 70.1,337.13 70.5,336.86 70.9,336.65 71.3,336.47 71.7,336.29 72.1,336.13 72.5,335.97 72.9,335.84 73.3,335.73 73.7,335.65 74.1,335.61 74.5,335.61 74.9,335.65 75.3,335.74 75.7,335.85 76.1,335.99 76.5,336.16 76.9,336.33 77.3,336.51 77.7,336.7 78.1,336.92 78.5,337.19 78.9,337.49 79.3,337.83 79.7,338.19 80.1,338.57 80.5,338.96 80.9,339.37 81.3,339.79 81.7,340.2 82.1,340.64 82.5,341.13 82.9,341.65 83.3,342.19 83.7,342.73 84.1,343.27 84.5,343.8 84.9,344.28 85.3,344.75 85.7,345.23 86.1,345.71 86.5,346.14 86.9,346.52 87.3,346.8 87.7,347.03 88.1,347.24 88.5,347.44 88.9,347.59 89.3,347.68 89.7,347.69 90.1,347.46 90.5,347.01 90.9,346.43 91.3,345.8 91.7,345.19 92.1,344.46 92.5,343.62 92.9,342.71 93.3,341.76 93.7,340.81 94.1,339.89 94.5,339.06 94.9,338.33 95.3,337.63 95.7,336.94 96.1,336.28 96.5,335.67 96.9,335.13 97.3,334.68 97.7,334.33 98.1,333.99 98.5,333.69 98.9,333.45 99.3,333.32 99.7,333.31 100.1,333.36 100.5,333.46 100.9,333.59 101.3,333.73 101.7,333.89 102.1,334.16 102.5,334.5 102.9,334.87 103.3,335.2 103.7,335.46 104.1,335.59 104.5,335.54 104.9,335.31 105.3,334.96 105.7,334.58 106.1,334.21 106.5,333.8 106.9,333.34 107.3,332.83 107.7,332.3 108.1,331.76 108.5,331.23 108.9,330.73 109.3,330.27 109.7,329.88 110.1,329.55 110.5,329.2 110.9,328.85 111.3,328.54 111.7,328.28 112.1,328.09 112.5,328 112.9,328.03 113.3,328.12 113.7,328.27 114.1,328.44 114.5,328.61 114.9,328.73 115.3,328.8 115.7,328.72 116.1,328.39 116.5,327.89 116.9,327.31 117.3,326.75 117.7,326.26 118.1,325.73 118.5,325.18 118.9,324.65 119.3,324.19 119.7,323.82 120.1,323.48 120.5,323.14 120.9,322.83 121.3,322.56 121.7,322.32 122.1,322.13 122.5,322 122.9,321.92 123.3,321.86 123.7,321.81 124.1,321.77 124.5,321.71 124.9,321.63 125.3,321.71 125.7,321.51 126.1,320.94 126.5,320.45 126.9,319.61 127.3,319.07 127.7,318.2 128.1,318.11 128.5,317.88 128.9,318.21 129.3,317.8 129.7,317.14 130.1,316.15 130.5,316.03 130.9,315.52 131.3,315.54 131.7,314.43 132.1,314.26 132.5,313.82 132.9,313.86 133.3,313.46 133.7,312.8 134.1,312.2 134.5,311.97 134.9,311.79 135.3,311.52 135.7,311 136.1,310.39 136.5,310.21 136.9,310.01 137.3,309.66 137.7,309.13 138.1,308.72 138.5,308.37 138.9,308.32 139.3,308.02 139.7,307.71 140.1,307.15 140.5,306.79 140.9,306.24 141.3,305.79 141.7,305.09 142.1,304.85 142.5,304.45 142.9,303.98 143.3,303.35 143.7,302.57 144.1,302.2 144.5,302.1 144.9,301.88 145.3,301.41 145.7,300.84 146.1,300.6 146.5,300.25 146.9,299.67 147.3,298.93 147.7,298.57 148.1,298.13 148.5,297.63 148.9,296.95 149.3,296.38 149.7,296.11 150.1,295.27 150.5,295.19 150.9,294.48 151.3,294.13 151.7,293.44 152.1,292.72 152.5,292.51 152.9,292.09 153.3,291.76 153.7,291.09 154.1,290.6 154.5,290.07 154.9,289.61 155.3,288.98 155.7,288.82 156.1,288.19 156.5,287.58 156.9,286.94 157.3,286.01 157.7,285.38 158.1,284.29 158.5,283.84 158.9,283.64 159.3,283.44 159.7,283.47 160.1,282.59 160.5,282.14 160.9,281.33 161.3,280.79 161.7,280.21 162.1,279.82 162.5,279.7 162.9,279.21 163.3,278.79 163.7,278.04 164.1,277.64 164.5,276.91 164.9,276.69 165.3,276.14 165.7,275.93 166.1,275.27 166.5,275.09 166.9,274.74 167.3,274.34 167.7,273.78 168.1,273.32 168.5,273.02 168.9,272.64 169.3,272.37 169.7,272.09 170.1,271.68 170.5,270.81 170.9,270.4 171.3,270.22 171.7,269.94 172.1,269.14 172.5,268 172.9,267.75 173.3,267.22 173.7,267.43 174.1,266.46 174.5,266.21 174.9,265.6 175.3,265.53 175.7,264.98 176.1,264.51 176.5,264.1 176.9,263.79 177.3,263.37 177.7,263.01 178.1,262.68 178.5,262.48 178.9,262.19 179.3,261.93 179.7,261.37 180.1,261.29 180.5,260.76 180.9,260.77 181.3,259.85 181.7,259.67 182.1,259.03 182.5,259.5 182.9,259.52 183.3,259.4 183.7,258.97 184.1,258.98 184.5,259.01 184.9,259 185.3,258.32 185.7,257.86 186.1,257.63 186.5,258.03 186.9,257.94 187.3,257.68 187.7,256.86 188.1,256.86 188.5,256.33 188.9,256.02 189.3,255.06 189.7,254.63 190.1,254.3 190.5,254.45 190.9,253.99 191.3,253.85 191.7,253.31 192.1,253.23 192.5,252.69 192.9,252.29 193.3,251.99 193.7,252.32 194.1,252.34 194.5,252.42 194.9,252.29 195.3,252.09 195.7,252.17 196.1,251.81 196.5,251.99 196.9,251.71 197.3,251.3 197.7,250.69 198.1,250.1 198.5,249.67 198.9,248.98 199.3,248.15 199.7,247.08 200.1,246.66 200.5,245.76 200.9,245.33 201.3,244.8 201.7,244.54 202.1,243.89 202.5,242.91 202.9,242.12 203.3,241.79 203.7,241.45 204.1,241.05 204.5,240.84 204.9,240.18 205.3,239.64 205.7,238.71 206.1,238.47 206.5,238.21 206.9,237.85 207.3,237.57 207.7,237.27 208.1,236.94 208.5,236.11 208.9,235.89 209.3,235.56 209.7,235.64 210.1,235.27 210.5,234.99 210.9,234.68 211.3,234.39 211.7,234.15 212.1,233.89 212.5,233.26 212.9,232.76 213.3,231.98 213.7,231.44 214.1,230.85 214.5,230.27 214.9,229.33 215.3,228.44 215.7,227.63 216.1,227.2 216.5,226.46 216.9,225.58 217.3,224.44 217.7,224.35 218.1,224.38 218.5,224.85 218.9,225.01 219.3,225.42 219.7,226.44" fill="none" stroke="#36509c" stroke-width="2.0" stroke-linejoin="round" clip-path="url(#cl)"/>
<polyline points="41.3,369.4 41.55,369.08 41.8,368.77 42.05,368.45 42.3,368.14 42.55,367.83 42.8,367.52 43.05,367.2 43.3,366.89 43.55,366.58 43.8,366.27 44.05,365.97 44.3,365.66 44.55,365.35 44.8,365.04 45.05,364.73 45.3,364.43 45.55,364.12 45.8,363.82 46.05,363.51 46.3,363.21 46.55,362.9 46.8,362.6 47.05,362.29 47.3,361.99 47.55,361.68 47.8,361.38 48.05,361.08 48.3,360.77 48.55,360.47 48.8,360.17 49.05,359.87 49.3,359.56 49.55,359.26 49.8,358.96 50.05,358.66 50.3,358.35 50.55,358.05 50.8,357.75 51.05,357.45 51.3,357.14 51.55,356.84 51.8,356.54 52.05,356.24 52.3,355.93 52.55,355.63 52.8,355.33 53.05,355.02 53.3,354.72 53.55,354.42 53.8,354.12 54.05,353.81 54.3,353.51 54.55,353.21 54.8,352.91 55.05,352.61 55.3,352.31 55.55,352.02 55.8,351.72 56.05,351.42 56.3,351.13 56.55,350.83 56.8,350.54 57.05,350.25 57.3,349.96 57.55,349.67 57.8,349.38 58.05,349.1 58.3,348.81 58.55,348.53 58.8,348.25 59.05,347.97 59.3,347.7 59.55,347.42 59.8,347.15 60.05,346.88 60.3,346.62 60.55,346.36 60.8,346.11 61.05,345.86 61.3,345.61 61.55,345.36 61.8,345.11 62.05,344.87 62.3,344.62 62.55,344.38 62.8,344.15 63.05,343.91 63.3,343.68 63.55,343.44 63.8,343.21 64.05,342.99 64.3,342.76 64.55,342.54 64.8,342.32 65.05,342.1 65.3,341.88 65.55,341.66 65.8,341.45 66.05,341.24 66.3,341.03 66.55,340.83 66.8,340.62 67.05,340.42 67.3,340.22 67.55,340.02 67.8,339.83 68.05,339.63 68.3,339.44 68.55,339.26 68.8,339.07 69.05,338.9 69.3,338.72 69.55,338.56 69.8,338.4 70.05,338.24 70.3,338.1 70.55,337.96 70.8,337.83 71.05,337.71 71.3,337.6 71.55,337.5 71.8,337.41 72.05,337.33 72.3,337.26 72.55,337.2 72.8,337.15 73.05,337.11 73.3,337.08 73.55,337.06 73.8,337.05 74.05,337.05 74.3,337.07 74.55,337.09 74.8,337.12 75.05,337.16 75.3,337.22 75.55,337.28 75.8,337.35 76.05,337.43 76.3,337.53 76.55,337.63 76.8,337.74 77.05,337.86 77.3,337.98 77.55,338.12 77.8,338.27 78.05,338.42 78.3,338.59 78.55,338.77 78.8,338.97 79.05,339.18 79.3,339.4 79.55,339.65 79.8,339.92 80.05,340.21 80.3,340.51 80.55,340.84 80.8,341.19 81.05,341.57 81.3,341.98 81.55,342.41 81.8,342.87 82.05,343.35 82.3,343.85 82.55,344.37 82.8,344.92 83.05,345.48 83.3,346.06 83.55,346.66 83.8,347.28 84.05,347.91 84.3,348.56 84.55,349.22 84.8,349.89 85.05,350.57 85.3,351.26 85.55,351.96 85.8,352.67 86.05,353.39 86.3,354.1 86.55,354.83 86.8,355.55 87.05,356.27 87.3,356.97 87.55,357.64 87.8,358.27 88.05,358.85 88.3,359.36 88.55,359.8 88.8,360.16 89.05,360.42 89.3,360.59 89.55,360.66 89.8,360.61 90.05,360.45 90.3,360.19 90.55,359.82 90.8,359.37 91.05,358.82 91.3,358.19 91.55,357.49 91.8,356.73 92.05,355.93 92.3,355.1 92.55,354.26 92.8,353.4 93.05,352.56 93.3,351.72 93.55,350.91 93.8,350.11 94.05,349.33 94.3,348.56 94.55,347.83 94.8,347.12 95.05,346.43 95.3,345.77 95.55,345.15 95.8,344.56 96.05,344 96.3,343.47 96.55,342.98 96.8,342.53 97.05,342.11 97.3,341.72 97.55,341.38 97.8,341.07 98.05,340.81 98.3,340.58 98.55,340.4 98.8,340.27 99.05,340.19 99.3,340.16 99.55,340.18 99.8,340.27 100.05,340.42 100.3,340.65 100.55,340.96 100.8,341.37 101.05,341.88 101.3,342.49 101.55,343.19 101.8,343.96 102.05,344.8 102.3,345.67 102.55,346.58 102.8,347.49 103.05,348.41 103.3,349.3 103.55,350.17 103.8,350.99 104.05,351.77 104.3,352.5 104.55,353.16 104.8,353.76 105.05,354.26 105.3,354.65 105.55,354.87 105.8,354.91 106.05,354.73 106.3,354.38 106.55,353.87 106.8,353.22 107.05,352.46 107.3,351.61 107.55,350.69 107.8,349.73 108.05,348.75 108.3,347.78 108.55,346.83 108.8,345.94 109.05,345.11 109.3,344.36 109.55,343.7 109.8,343.13 110.05,342.65 110.3,342.28 110.55,342.04 110.8,341.94 111.05,342 111.3,342.22 111.55,342.59 111.8,343.07 112.05,343.66 112.3,344.32 112.55,345.05 112.8,345.82 113.05,346.62 113.3,347.43 113.55,348.23 113.8,349.01 114.05,349.73 114.3,350.36 114.55,350.85 114.8,351.18 115.05,351.28 115.3,351.16 115.55,350.84 115.8,350.34 116.05,349.71 116.3,348.99 116.55,348.19 116.8,347.38 117.05,346.56 117.3,345.79 117.55,345.1 117.8,344.52 118.05,344.08 118.2,344.08 118.4,341.82 118.6,342.08 118.8,342.47 119,342.98 119.2,343.59 119.4,344.28 119.6,345.01 119.8,345.76 120,346.5 120.2,347.19 120.4,347.81 120.6,348.33 120.8,348.71 121,348.96 121.2,349.04 121.4,348.97 121.6,348.73 121.8,348.35 122,347.85 122.2,347.24 122.4,346.55 122.6,345.84 122.8,345.12 123,344.44 123.2,343.85 123.4,343.36 123.6,343.01 123.8,342.83 124,342.81 124.2,342.96 124.4,343.28 124.6,343.73 124.8,344.3 125,344.95 125.2,345.62 125.4,346.29 125.6,346.89 125.8,347.4 126,347.78 126.2,347.99 126.4,348.03 126.6,347.9 126.8,347.59 127,347.15 127.2,346.59 127.4,345.97 127.6,345.33 127.8,344.73 128,343.72 128.2,343.25 128.4,342.61 128.6,342.52 128.8,342.52 129,343.41 129.2,344.19 129.4,344.25 129.6,344.63 129.8,345.15 130,345.48 130.2,345.84 130.4,346.05 130.6,346.38 130.8,346.58 131,346.32 131.2,345.72 131.4,344.79 131.6,344.27 131.8,343.87 132,343.66 132.2,343.72 132.4,343.59 132.6,343.46 132.8,343.13 133,343.8 133.2,344.95 133.4,344.89 133.6,345.09 133.8,346.04 134,345.96 134.2,346.11 134.4,346.12 134.6,345.18 134.8,345.17 135,345.03 135.2,344.15 135.4,343.94 135.6,343.46 135.8,343.64 136,344.03 136.2,343.97 136.4,344.44 136.6,344.87 136.8,345.51 137,345.48 137.2,345.56 137.4,345.61 137.6,345.07 137.8,344.76 138,344.33 138.2,343.86 138.4,344.05 138.6,344.09 138.8,344.18 139,344.5 139.2,344.3 139.4,344.09 139.6,344.45 139.8,345.12 140,345.32 140.2,344.97 140.4,344.97 140.6,344.48 140.8,343.68 141,343.9 141.2,344.59 141.4,344.7 141.6,344.15 141.8,344.44 142,345.06 142.2,345.32 142.4,345.14 142.6,344.69 142.8,344.64 143,344.68 143.2,344.79 143.4,345.02 143.6,344.47 143.8,343.96 144,344.28 144.2,344.54 144.4,344.82 144.6,345.06 144.8,344.96 145,345.01 145.2,344.74 145.4,344.03 145.6,343.63 145.8,343.65 146,343.87 146.2,343.82 146.4,344.34 146.6,344.87 146.8,344.6 147,344.25 147.2,343.85 147.4,343.72 147.6,344.44 147.8,344.18 148,343.89 148.2,344.67 148.4,344.75 148.6,344.51 148.8,344.58 149,344.29 149.2,344.14 149.4,344.67 149.6,344.34 149.8,343.91 150,344.25 150.2,344.7 150.4,344.95 150.6,344.8 150.8,344.26 151,343.8 151.2,344.01 151.4,344.4 151.6,344.16 151.8,344.12 152,344.42 152.2,344.58 152.4,344.21 152.6,344.06 152.8,344.03 153,343.86 153.2,344.14 153.4,344.58 153.6,345.31 153.8,344.97 154,344.29 154.2,344.46 154.4,344.06 154.6,344.04 154.8,344.07 155,344.23 155.2,344.79 155.4,344.5 155.6,344 155.8,344.28 156,344.53 156.2,344.17 156.4,344.21 156.6,343.77 156.8,343.71 157,344.33 157.2,344.32 157.4,344.13 157.6,343.81 157.8,343.89 158,344.13 158.2,343.99 158.4,343.82 158.6,344.01 158.8,344.39 159,344.26 159.2,344.17 159.4,344.37 159.6,344.53 159.8,344.27 160,343.84 160.2,343.67 160.4,343.72 160.6,343.93 160.8,344.13 161,343.89 161.2,343.69 161.4,343.55 161.6,343.79 161.8,343.92 162,343.7 162.2,343.6 162.4,343.44 162.6,343.44 162.8,343.88 163,344.09 163.2,343.65 163.4,343.34 163.6,343.23 163.8,343.56 164,344.05 164.2,343.58 164.4,342.99 164.6,343.25 164.8,343.3 165,342.95 165.2,343.08 165.4,343.6 165.6,343.23 165.8,343.09 166,343.64 166.2,343.8 166.4,343.47 166.6,343.75 166.8,343.95 167,343.23 167.2,343.31 167.4,343.22 167.6,343.18 167.8,343.13 168,343.08 168.2,343.22 168.4,343.27 168.6,343.55 168.8,343.37 169,343.2 169.2,343.32 169.4,342.88 169.6,342.71 169.8,343.19 170,343.2 170.2,343.27 170.4,343.95 170.6,343.77 170.8,343.1 171,343.08 171.2,343.23 171.4,342.72 171.6,342.72 171.8,343 172,342.08 172.2,341.97 172.4,342.41 172.6,342.67 172.8,342.68 173,342.79 173.2,342.77 173.4,342.54 173.6,342.04 173.8,342.14 174,342.82 174.2,342.59 174.4,341.91 174.6,341.68 174.8,342.45 175,342.59 175.2,342.03 175.4,341.96 175.6,342.23 175.8,342.25 176,341.87 176.2,341.64 176.4,341.78 176.6,342.31 176.8,342.27 177,342.21 177.2,342.25 177.4,342.05 177.6,342.02 177.8,341.96 178,342.12 178.2,342.19 178.4,341.8 178.6,341.68 178.8,341.76 179,341.81 179.2,341.83 179.4,341.78 179.6,341.37 179.8,341.32 180,341.92 180.2,341.49 180.4,341.52 180.6,341.85 180.8,341.41 181,340.89 181.2,341.15 181.4,341.3 181.6,340.9 181.8,341.2 182,341.04 182.2,340.66 182.4,340.59 182.6,340.74 182.8,341.09 183,341.17 183.2,341.08 183.4,340.87 183.6,340.77 183.8,340.65 184,341.02 184.2,341.18 184.4,340.24 184.6,339.91 184.8,340.67 185,340.55 185.2,340.05 185.4,340.4 185.6,340.2 185.8,340.3 186,340.88 186.2,340.41 186.4,340.23 186.6,340.17 186.8,339.64 187,339.84 187.2,340.07 187.4,339.83 187.6,339.91 187.8,339.67 188,339.23 188.2,339.27 188.4,339.57 188.6,339.94 188.8,339.87 189,339.34 189.2,339.16 189.4,339.5 189.6,339.05 189.8,338.71 190,339.16 190.2,339.44 190.4,339.3 190.6,339.2 190.8,339.16 191,339.01 191.2,338.85 191.4,338.56 191.6,338.47 191.8,338.51 192,339.02 192.2,339.11 192.4,338.52 192.6,338.35 192.8,338.26 193,338.18 193.2,338.26 193.4,338.25 193.6,338.25 193.8,338.03 194,337.86 194.2,338.14 194.4,337.73 194.6,337.5 194.8,337.75 195,337.56 195.2,337.33 195.4,336.91 195.6,337.21 195.8,337.34 196,336.73 196.2,337.01 196.4,336.81 196.6,336.8 196.8,337.23 197,337.07 197.2,336.86 197.4,336.37 197.6,335.91 197.8,336.43 198,336.67 198.2,336.14 198.4,336.52 198.6,336.42 198.8,335.93 199,335.93 199.2,335.87 199.4,335.61 199.6,335.43 199.8,335.86 200,336.07 200.2,335.03 200.4,334.33 200.6,334.99 200.8,335.31 201,335.06 201.2,335.23 201.4,334.83 201.6,334.77 201.8,335.11 202,334.87 202.2,334.81 202.4,334.78 202.6,334.57 202.8,334.16 203,334.3 203.2,334.37 203.4,333.81 203.6,333.98 203.8,334.43 204,334.36 204.2,334 204.4,333.66 204.6,333.45 204.8,333.05 205,333.05 205.2,333.21 205.4,332.94 205.6,333.21 205.8,332.89 206,332.19 206.2,332.29 206.4,332.66 206.6,332.65 206.8,332.18 207,331.93 207.2,331.72 207.4,331.51 207.6,331.8 207.8,332.12 208,332 208.2,331.61 208.4,331.83 208.6,331.65 208.8,330.51 209,330.55 209.2,330.92 209.4,331.04 209.6,330.67 209.8,330.51 210,331 210.2,330.56 210.4,329.89 210.6,329.58 210.8,329.68 211,330.13 211.2,330.13 211.4,330 211.6,330.02 211.8,329.74 212,329.51 212.2,329.14 212.4,328.62 212.6,328.76 212.8,328.63 213,328.57 213.2,328.94 213.4,328.77 213.6,328.16 213.8,327.77 214,328.11 214.2,327.97 214.4,327.55 214.6,327.54 214.8,327.39 215,327.56 215.2,327.29 215.4,326.59 215.6,326.9 215.8,327.13 216,326.83 216.2,326.64 216.4,326.51 216.6,326.66 216.8,326.65 217,326.16 217.2,325.63 217.4,325.64 217.6,325.62 217.8,325.52 218,325.17 218.2,324.37 218.4,324.49 218.6,325.04 218.8,324.93 219,324.98 219.2,324.88 219.4,324.27" fill="none" stroke="#2b7d9e" stroke-width="1.9" stroke-linejoin="round" clip-path="url(#cl)"/>
<polyline points="41.3,369.4 41.55,369.08 41.8,368.77 42.05,368.46 42.3,368.14 42.55,367.83 42.8,367.52 43.05,367.21 43.3,366.9 43.55,366.59 43.8,366.28 44.05,365.97 44.3,365.66 44.55,365.35 44.8,365.05 45.05,364.74 45.3,364.43 45.55,364.13 45.8,363.82 46.05,363.51 46.3,363.21 46.55,362.9 46.8,362.6 47.05,362.3 47.3,361.99 47.55,361.69 47.8,361.38 48.05,361.08 48.3,360.78 48.55,360.48 48.8,360.17 49.05,359.87 49.3,359.57 49.55,359.26 49.8,358.96 50.05,358.66 50.3,358.36 50.55,358.06 50.8,357.75 51.05,357.45 51.3,357.15 51.55,356.84 51.8,356.54 52.05,356.24 52.3,355.94 52.55,355.63 52.8,355.33 53.05,355.03 53.3,354.72 53.55,354.42 53.8,354.12 54.05,353.82 54.3,353.52 54.55,353.22 54.8,352.92 55.05,352.62 55.3,352.32 55.55,352.02 55.8,351.72 56.05,351.43 56.3,351.13 56.55,350.84 56.8,350.55 57.05,350.25 57.3,349.96 57.55,349.68 57.8,349.39 58.05,349.1 58.3,348.82 58.55,348.54 58.8,348.26 59.05,347.98 59.3,347.7 59.55,347.43 59.8,347.15 60.05,346.88 60.3,346.61 60.55,346.35 60.8,346.08 61.05,345.82 61.3,345.56 61.55,345.3 61.8,345.04 62.05,344.79 62.3,344.54 62.55,344.29 62.8,344.04 63.05,343.79 63.3,343.55 63.55,343.31 63.8,343.07 64.05,342.83 64.3,342.59 64.55,342.36 64.8,342.13 65.05,341.9 65.3,341.67 65.55,341.45 65.8,341.22 66.05,341 66.3,340.78 66.55,340.57 66.8,340.35 67.05,340.14 67.3,339.93 67.55,339.72 67.8,339.52 68.05,339.31 68.3,339.11 68.55,338.92 68.8,338.73 69.05,338.54 69.3,338.36 69.55,338.18 69.8,338.01 70.05,337.85 70.3,337.69 70.55,337.54 70.8,337.4 71.05,337.27 71.3,337.16 71.55,337.05 71.8,336.95 72.05,336.85 72.3,336.77 72.55,336.7 72.8,336.64 73.05,336.59 73.3,336.56 73.55,336.53 73.8,336.51 74.05,336.5 74.3,336.5 74.55,336.51 74.8,336.54 75.05,336.57 75.3,336.61 75.55,336.66 75.8,336.73 76.05,336.8 76.3,336.88 76.55,336.97 76.8,337.07 77.05,337.18 77.3,337.3 77.55,337.43 77.8,337.56 78.05,337.71 78.3,337.87 78.55,338.04 78.8,338.22 79.05,338.42 79.3,338.64 79.55,338.88 79.8,339.14 80.05,339.42 80.3,339.72 80.55,340.05 80.8,340.4 81.05,340.78 81.3,341.19 81.55,341.62 81.8,342.08 82.05,342.56 82.3,343.06 82.55,343.59 82.8,344.13 83.05,344.69 83.3,345.28 83.55,345.88 83.8,346.5 84.05,347.13 84.3,347.77 84.55,348.43 84.8,349.11 85.05,349.79 85.3,350.48 85.55,351.19 85.8,351.89 86.05,352.61 86.3,353.33 86.55,354.05 86.8,354.78 87.05,355.5 87.3,356.2 87.55,356.87 87.8,357.51 88.05,358.08 88.3,358.6 88.55,359.04 88.8,359.4 89.05,359.67 89.3,359.84 89.55,359.9 89.8,359.85 90.05,359.7 90.3,359.43 90.55,359.07 90.8,358.61 91.05,358.06 91.3,357.43 91.55,356.73 91.8,355.97 92.05,355.17 92.3,354.34 92.55,353.49 92.8,352.64 93.05,351.79 93.3,350.96 93.55,350.14 93.8,349.34 94.05,348.56 94.3,347.8 94.55,347.06 94.8,346.35 95.05,345.66 95.3,345 95.55,344.38 95.8,343.78 96.05,343.22 96.3,342.7 96.55,342.21 96.8,341.75 97.05,341.33 97.3,340.95 97.55,340.61 97.8,340.3 98.05,340.03 98.3,339.81 98.55,339.63 98.8,339.5 99.05,339.41 99.3,339.38 99.55,339.41 99.8,339.5 100.05,339.65 100.3,339.88 100.55,340.19 100.8,340.6 101.05,341.11 101.3,341.72 101.55,342.43 101.8,343.2 102.05,344.04 102.3,344.92 102.55,345.82 102.8,346.74 103.05,347.66 103.3,348.56 103.55,349.42 103.8,350.25 104.05,351.03 104.3,351.76 104.55,352.43 104.8,353.03 105.05,353.54 105.3,353.93 105.55,354.15 105.8,354.19 106.05,354.02 106.3,353.66 106.55,353.15 106.8,352.5 107.05,351.74 107.3,350.88 107.55,349.97 107.8,349.01 108.05,348.02 108.3,347.05 108.55,346.1 108.8,345.2 109.05,344.37 109.3,343.62 109.55,342.96 109.8,342.39 110.05,341.91 110.3,341.54 110.55,341.3 110.8,341.2 111.05,341.26 111.3,341.48 111.55,341.85 111.8,342.34 112.05,342.92 112.3,343.59 112.55,344.33 112.8,345.1 113.05,345.91 113.3,346.72 113.55,347.53 113.8,348.31 114.05,349.03 114.3,349.67 114.55,350.17 114.8,350.49 115.05,350.6 115.3,350.48 115.55,350.15 115.8,349.66 116.05,349.03 116.3,348.3 116.55,347.51 116.8,346.68 117.05,345.87 117.3,345.1 117.55,344.4 117.8,343.81 118.05,343.38 118.2,343.38 118.4,341.11 118.6,341.37 118.8,341.77 119,342.28 119.2,342.89 119.4,343.58 119.6,344.32 119.8,345.08 120,345.83 120.2,346.52 120.4,347.15 120.6,347.67 120.8,348.06 121,348.3 121.2,348.39 121.4,348.32 121.6,348.09 121.8,347.71 122,347.2 122.2,346.58 122.4,345.9 122.6,345.18 122.8,344.46 123,343.78 123.2,343.18 123.4,342.69 123.6,342.34 123.8,342.16 124,342.14 124.2,342.3 124.4,342.61 124.6,343.07 124.8,343.65 125,344.3 125.2,344.98 125.4,345.65 125.6,346.27 125.8,346.79 126,347.17 126.2,347.39 126.4,347.43 126.6,347.29 126.8,346.99 127,346.54 127.2,345.98 127.4,345.35 127.6,344.72 127.8,344.11 128,344.21 128.2,343.36 128.4,342.5 128.6,342.35 128.8,342.91 129,343.27 129.2,343.64 129.4,344.2 129.6,344.83 129.8,345.06 130,345.94 130.2,346.94 130.4,347.4 130.6,347.23 130.8,346.52 131,346.06 131.2,345.31 131.4,345.21 131.6,344.79 131.8,343.69 132,343.52 132.2,343.98 132.4,343.99 132.6,343.38 132.8,343.37 133,344.21 133.2,344.84 133.4,344.95 133.6,345.39 133.8,346.16 134,346.96 134.2,346.44 134.4,345.58 134.6,345.4 134.8,344.5 135,344.01 135.2,343.97 135.4,344.2 135.6,344.25 135.8,343.47 136,343.83 136.2,344.46 136.4,344.19 136.6,344.53 136.8,345.21 137,345.39 137.2,345.67 137.4,345.23 137.6,344.93 137.8,345.51 138,345.45 138.2,345.13 138.4,344.96 138.6,344.96 138.8,344.39 139,344.41 139.2,344.51 139.4,344.44 139.6,344.71 139.8,345.36 140,346.3 140.2,345.85 140.4,345.75 140.6,345.33 140.8,344.6 141,344.62 141.2,344.2 141.4,344.34 141.6,345.34 141.8,345.19 142,345.16 142.2,345.59 142.4,345.91 142.6,346.03 142.8,345.55 143,345.37 143.2,345.03 143.4,344.33 143.6,344.61 143.8,344.71 144,344.57 144.2,345.32 144.4,345.2 144.6,345.14 144.8,345.65 145,345.47 145.2,344.72 145.4,343.76 145.6,343.65 145.8,344.31 146,344.55 146.2,344.61 146.4,345 146.6,345.18 146.8,345.03 147,345.26 147.2,344.92 147.4,344.53 147.6,345.31 147.8,345.67 148,344.83 148.2,344.69 148.4,345.29 148.6,345.66 148.8,345.48 149,344.88 149.2,344.55 149.4,344.83 149.6,345.15 149.8,344.92 150,344.88 150.2,344.95 150.4,345.19 150.6,345.04 150.8,344.89 151,345.27 151.2,345.28 151.4,344.87 151.6,345.18 151.8,345.27 152,345 152.2,344.93 152.4,344.27 152.6,344.51 152.8,345.09 153,345.06 153.2,345.1 153.4,344.96 153.6,344.65 153.8,344.74 154,345.43 154.2,345.7 154.4,345.07 154.6,345.04 154.8,345.07 155,344.77 155.2,345.1 155.4,345.05 155.6,344.36 155.8,344.29 156,344.8 156.2,345.09 156.4,345.38 156.6,345.12 156.8,344.98 157,345.31 157.2,345.09 157.4,345.21 157.6,345.37 157.8,344.89 158,345.04 158.2,344.95 158.4,344.69 158.6,345.03 158.8,345.12 159,344.91 159.2,344.78 159.4,344.95 159.6,345.25 159.8,345.07 160,344.8 160.2,344.94 160.4,344.56 160.6,345.38 160.8,345.72 161,344.57 161.2,344.97 161.4,345.09 161.6,344.81 161.8,345.35 162,345.06 162.2,344.7 162.4,344.73 162.6,344.82 162.8,344.52 163,344.22 163.2,344.62 163.4,345.24 163.6,345.46 163.8,345.65 164,345.67 164.2,345.05 164.4,344.82 164.6,344.41 164.8,344.18 165,344.45 165.2,344.79 165.4,345.25 165.6,345.03 165.8,344.68 166,344.41 166.2,344.54 166.4,345.03 166.6,345.19 166.8,344.91 167,345.33 167.2,345.88 167.4,345.3 167.6,344.83 167.8,344.77 168,344.95 168.2,345.04 168.4,345.13 168.6,345.34 168.8,345.59 169,345.69 169.2,345.28 169.4,345.08 169.6,345 169.8,344.73 170,345.36 170.2,345.4 170.4,345.42 170.6,345.45 170.8,344.97 171,345.37 171.2,345.31 171.4,345.11 171.6,345.04 171.8,344.8 172,344.82 172.2,344.78 172.4,345.27 172.6,345.4 172.8,345.43 173,344.74 173.2,344.27 173.4,345.16 173.6,345.07 173.8,345.22 174,345.48 174.2,345.1 174.4,345.04 174.6,345.89 174.8,345.84 175,345.15 175.2,344.96 175.4,344.92 175.6,344.68 175.8,344.59 176,345.62 176.2,345.97 176.4,345.47 176.6,345.48 176.8,345.82 177,345.68 177.2,345.73 177.4,345.86 177.6,345.34 177.8,345.52 178,344.82 178.2,344.19 178.4,344.92 178.6,344.82 178.8,344.71 179,344.78 179.2,344.64 179.4,345.57 179.6,345.92 179.8,345.16 180,345.35 180.2,345.3 180.4,345.18 180.6,345.34 180.8,345.54 181,345.06 181.2,344.82 181.4,345.24 181.6,344.72 181.8,344.97 182,345.05 182.2,345.21 182.4,345.59 182.6,345.33 182.8,345.21 183,345.27 183.2,344.74 183.4,344.51 183.6,344.85 183.8,344.9 184,345.06 184.2,345.16 184.4,344.94 184.6,345.28 184.8,346.14 185,345.58 185.2,344.94 185.4,345.07 185.6,345.43 185.8,345.87 186,345.19 186.2,344.5 186.4,344.54 186.6,344.4 186.8,344.24 187,344.65 187.2,344.78 187.4,345.09 187.6,345.66 187.8,344.97 188,344.43 188.2,344.55 188.4,345.22 188.6,345.15 188.8,344.36 189,344.58 189.2,345.09 189.4,344.92 189.6,345.26 189.8,345.51 190,345.19 190.2,344.89 190.4,344.75 190.6,344.95 190.8,344.33 191,344.45 191.2,344.59 191.4,344.5 191.6,344.59 191.8,345.15 192,345.65 192.2,345.33 192.4,345.49 192.6,344.89 192.8,344.01 193,344.28 193.2,345.16 193.4,345.27 193.6,345.24 193.8,345.47 194,344.85 194.2,344.67 194.4,345.62 194.6,345.38 194.8,344.29 195,344.38 195.2,344.81 195.4,344.99 195.6,344.87 195.8,344.78 196,344.42 196.2,344.63 196.4,345.67 196.6,345.79 196.8,344.94 197,344.67 197.2,344.27 197.4,344.26 197.6,345.06 197.8,344.71 198,344.82 198.2,345.13 198.4,345.3 198.6,345.29 198.8,345.1 199,344.53 199.2,344.15 199.4,344.55 199.6,344.95 199.8,345.08 200,345.41 200.2,345.17 200.4,344.69 200.6,345 200.8,345.01 201,345.07 201.2,344.98 201.4,345.23 201.6,345.3 201.8,345.22 202,345.3 202.2,345.4 202.4,345.03 202.6,344.76 202.8,345.02 203,344.94 203.2,345.39 203.4,345.01 203.6,344.32 203.8,344.36 204,344.8 204.2,344.55 204.4,344.51 204.6,344.67 204.8,344.33 205,344.58 205.2,345 205.4,344.93 205.6,344.69 205.8,344.85 206,344.91 206.2,344.19 206.4,344.15 206.6,344.91 206.8,345.33 207,345.86 207.2,345.75 207.4,345.21 207.6,344.76 207.8,344.76 208,345.24 208.2,345.56 208.4,345.11 208.6,344.82 208.8,345.29 209,345.74 209.2,345.58 209.4,344.92 209.6,344.66 209.8,344.71 210,344.72 210.2,345.05 210.4,345.52 210.6,345.49 210.8,345.53 211,345.2 211.2,344.98 211.4,345 211.6,344.91 211.8,345.35 212,345.33 212.2,344.48 212.4,344.42 212.6,344.73 212.8,344.39 213,344.37 213.2,345.05 213.4,345.73 213.6,345.33 213.8,345.14 214,345.6 214.2,345.01 214.4,344.67 214.6,344.98 214.8,345.04 215,344.61 215.2,344.47 215.4,345.19 215.6,345.64 215.8,345.85 216,345.41 216.2,345.42 216.4,345.7 216.6,344.81 216.8,344.84 217,345.11 217.2,345.05 217.4,345.11 217.6,345.3 217.8,345.4 218,344.99 218.2,345.19 218.4,345.34 218.6,344.96 218.8,345.24 219,345.24 219.2,344.71 219.4,344.68" fill="none" stroke="#22918f" stroke-width="1.9" stroke-linejoin="round" clip-path="url(#cl)"/>
<line x1="382.3" y1="280.8" x2="434.9" y2="235.6" stroke="#9c9c94" stroke-width="1.9" stroke-dasharray="9.6,5.4"/>
<polyline points="261.3,369.4 261.55,369.08 261.8,368.77 262.05,368.46 262.3,368.14 262.55,367.83 262.8,367.52 263.05,367.21 263.3,366.9 263.55,366.59 263.8,366.28 264.05,365.97 264.3,365.66 264.55,365.35 264.8,365.05 265.05,364.74 265.3,364.43 265.55,364.13 265.8,363.82 266.05,363.51 266.3,363.21 266.55,362.9 266.8,362.6 267.05,362.3 267.3,361.99 267.55,361.69 267.8,361.38 268.05,361.08 268.3,360.78 268.55,360.48 268.8,360.17 269.05,359.87 269.3,359.57 269.55,359.26 269.8,358.96 270.05,358.66 270.3,358.36 270.55,358.06 270.8,357.75 271.05,357.45 271.3,357.15 271.55,356.84 271.8,356.54 272.05,356.24 272.3,355.94 272.55,355.63 272.8,355.33 273.05,355.03 273.3,354.72 273.55,354.42 273.8,354.12 274.05,353.82 274.3,353.52 274.55,353.22 274.8,352.92 275.05,352.62 275.3,352.32 275.55,352.02 275.8,351.72 276.05,351.43 276.3,351.13 276.55,350.84 276.8,350.55 277.05,350.25 277.3,349.96 277.55,349.68 277.8,349.39 278.05,349.1 278.3,348.82 278.55,348.54 278.8,348.26 279.05,347.98 279.3,347.7 279.55,347.43 279.8,347.15 280.05,346.88 280.3,346.61 280.55,346.35 280.8,346.08 281.05,345.82 281.3,345.56 281.55,345.3 281.8,345.04 282.05,344.79 282.3,344.54 282.55,344.29 282.8,344.04 283.05,343.79 283.3,343.55 283.55,343.31 283.8,343.07 284.05,342.83 284.3,342.59 284.55,342.36 284.8,342.13 285.05,341.9 285.3,341.67 285.55,341.45 285.8,341.22 286.05,341 286.3,340.78 286.55,340.57 286.8,340.35 287.05,340.14 287.3,339.93 287.55,339.72 287.8,339.52 288.05,339.31 288.3,339.11 288.55,338.92 288.8,338.73 289.05,338.54 289.3,338.36 289.55,338.18 289.8,338.01 290.05,337.85 290.3,337.69 290.55,337.54 290.8,337.4 291.05,337.27 291.3,337.16 291.55,337.05 291.8,336.95 292.05,336.85 292.3,336.77 292.55,336.7 292.8,336.64 293.05,336.59 293.3,336.56 293.55,336.53 293.8,336.51 294.05,336.5 294.3,336.5 294.55,336.51 294.8,336.54 295.05,336.57 295.3,336.61 295.55,336.66 295.8,336.73 296.05,336.8 296.3,336.88 296.55,336.97 296.8,337.07 297.05,337.18 297.3,337.3 297.55,337.43 297.8,337.56 298.05,337.71 298.3,337.87 298.55,338.04 298.8,338.22 299.05,338.42 299.3,338.64 299.55,338.88 299.8,339.14 300.05,339.42 300.3,339.72 300.55,340.05 300.8,340.4 301.05,340.78 301.3,341.19 301.55,341.62 301.8,342.08 302.05,342.56 302.3,343.06 302.55,343.59 302.8,344.13 303.05,344.69 303.3,345.28 303.55,345.88 303.8,346.5 304.05,347.13 304.3,347.77 304.55,348.43 304.8,349.11 305.05,349.79 305.3,350.48 305.55,351.19 305.8,351.89 306.05,352.61 306.3,353.33 306.55,354.05 306.8,354.78 307.05,355.5 307.3,356.2 307.55,356.87 307.8,357.51 308.05,358.08 308.3,358.6 308.55,359.04 308.8,359.4 309.05,359.67 309.3,359.84 309.55,359.9 309.8,359.85 310.05,359.7 310.3,359.43 310.55,359.07 310.8,358.61 311.05,358.06 311.3,357.43 311.55,356.73 311.8,355.97 312.05,355.17 312.3,354.34 312.55,353.49 312.8,352.64 313.05,351.79 313.3,350.96 313.55,350.14 313.8,349.34 314.05,348.56 314.3,347.8 314.55,347.06 314.8,346.35 315.05,345.66 315.3,345 315.55,344.38 315.8,343.78 316.05,343.22 316.3,342.7 316.55,342.21 316.8,341.75 317.05,341.33 317.3,340.95 317.55,340.61 317.8,340.3 318.05,340.03 318.3,339.81 318.55,339.63 318.8,339.5 319.05,339.41 319.3,339.38 319.55,339.41 319.8,339.5 320.05,339.65 320.3,339.88 320.55,340.19 320.8,340.6 321.05,341.11 321.3,341.72 321.55,342.43 321.8,343.2 322.05,344.04 322.3,344.92 322.55,345.82 322.8,346.74 323.05,347.66 323.3,348.56 323.55,349.42 323.8,350.25 324.05,351.03 324.3,351.76 324.55,352.43 324.8,353.03 325.05,353.54 325.3,353.93 325.55,354.15 325.8,354.19 326.05,354.02 326.3,353.66 326.55,353.15 326.8,352.5 327.05,351.74 327.3,350.88 327.55,349.97 327.8,349.01 328.05,348.02 328.3,347.05 328.55,346.1 328.8,345.2 329.05,344.37 329.3,343.62 329.55,342.96 329.8,342.39 330.05,341.91 330.3,341.54 330.55,341.3 330.8,341.2 331.05,341.26 331.3,341.48 331.55,341.85 331.8,342.34 332.05,342.92 332.3,343.59 332.55,344.33 332.8,345.1 333.05,345.91 333.3,346.72 333.55,347.53 333.8,348.31 334.05,349.03 334.3,349.67 334.55,350.17 334.8,350.49 335.05,350.6 335.3,350.48 335.55,350.15 335.8,349.66 336.05,349.03 336.3,348.3 336.55,347.51 336.8,346.68 337.05,345.87 337.3,345.1 337.55,344.4 337.8,343.81 338.05,343.38 338.2,343.38 338.4,341.11 338.6,341.37 338.8,341.77 339,342.28 339.2,342.89 339.4,343.58 339.6,344.32 339.8,345.08 340,345.83 340.2,346.52 340.4,347.15 340.6,347.67 340.8,348.06 341,348.3 341.2,348.39 341.4,348.32 341.6,348.09 341.8,347.71 342,347.2 342.2,346.58 342.4,345.9 342.6,345.18 342.8,344.46 343,343.78 343.2,343.18 343.4,342.69 343.6,342.34 343.8,342.16 344,342.14 344.2,342.3 344.4,342.61 344.6,343.07 344.8,343.65 345,344.3 345.2,344.98 345.4,345.65 345.6,346.27 345.8,346.79 346,347.17 346.2,347.39 346.4,347.43 346.6,347.29 346.8,346.99 347,346.54 347.2,345.98 347.4,345.35 347.6,344.72 347.8,344.11 348,343.42 348.2,342.76 348.4,343.04 348.6,343.39 348.8,344.07 349,344.43 349.2,343.58 349.4,343.85 349.6,344.86 349.8,345.72 350,346.3 350.2,346.53 350.4,346.7 350.6,346.79 350.8,347.15 351,346.52 351.2,345.13 351.4,344.49 351.6,344.94 351.8,344.77 352,343.85 352.2,343.25 352.4,343.51 352.6,343.94 352.8,343.87 353,344.03 353.2,344.49 353.4,345.05 353.6,345.7 353.8,346.49 354,346 354.2,345.28 354.4,345.64 354.6,345.76 354.8,344.95 355,344.3 355.2,344.19 355.4,343.91 355.6,343.7 355.8,343.77 356,344.28 356.2,344.8 356.4,345.1 356.6,345.38 356.8,345.38 357,345.43 357.2,345.93 357.4,346.03 357.6,345.85 357.8,345.57 358,345 358.2,344.7 358.4,344.02 358.6,343.74 358.8,344.06 359,344.53 359.2,344.8 359.4,344.96 359.6,345.32 359.8,345.58 360,345.94 360.2,345.65 360.4,345.26 360.6,345.07 360.8,344.97 361,344.63 361.2,344.34 361.4,344.37 361.6,344.27 361.8,344.69 362,345.33 362.2,345.24 362.4,345.63 362.6,345.59 362.8,345.19 363,345.27 363.2,344.38 363.4,344.12 363.6,344.13 363.8,344.2 364,345 364.2,345.74 364.4,345.94 364.6,345.08 364.8,344.73 365,345.43 365.2,345.39 365.4,345.3 365.6,344.97 365.8,344.35 366,344.29 366.2,344.49 366.4,345.36 366.6,345.28 366.8,345.14 367,345.42 367.2,345.26 367.4,344.95 367.6,344.69 367.8,345.39 368,345.15 368.2,344.89 368.4,345.74 368.6,345.67 368.8,345.64 369,344.58 369.2,343.95 369.4,344.4 369.6,344.41 369.8,344.79 370,345.13 370.2,344.97 370.4,345.06 370.6,344.79 370.8,344.73 371,345.04 371.2,344.3 371.4,343.94 371.6,344 371.8,344.26 372,344.77 372.2,345.35 372.4,345.48 372.6,344.71 372.8,343.88 373,344.22 373.2,344.51 373.4,344.56 373.6,344.73 373.8,345.43 374,345.11 374.2,344.5 374.4,345.52 374.6,345.36 374.8,344.64 375,345.2 375.2,344.79 375.4,343.83 375.6,344.08 375.8,344.7 376,345.27 376.2,345.13 376.4,345.5 376.6,345.45 376.8,344.84 377,344.83 377.2,345.2 377.4,345.3 377.6,344.84 377.8,345.28 378,345.74 378.2,345.56 378.4,344.88 378.6,344.31 378.8,344.59 379,344.8 379.2,344.74 379.4,344.76 379.6,345.08 379.8,344.86 380,344.74 380.2,344.9 380.4,344.71 380.6,344.75 380.8,345.09 381,345.25 381.2,344.82 381.4,344.83 381.6,345.1 381.8,345.13 382,345.02 382.2,345.17 382.4,345.35 382.6,344.77 382.8,344.31 383,344.24 383.2,344.7 383.4,344.9 383.6,344.7 383.8,344.87 384,345.31 384.2,345.93 384.4,345.56 384.6,345.51 384.8,345.7 385,345.48 385.2,345.25 385.4,344.58 385.6,344.79 385.8,345.49 386,344.92 386.2,344.55 386.4,345.04 386.6,345.22 386.8,344.86 387,344.54 387.2,345.1 387.4,345.75 387.6,345.52 387.8,345.3 388,345.32 388.2,345.16 388.4,345.01 388.6,344.83 388.8,344.78 389,344.87 389.2,345.33 389.4,345.36 389.6,345.23 389.8,345 390,345.02 390.2,344.32 390.4,343.73 390.6,344.51 390.8,344.4 391,344.65 391.2,345.21 391.4,344.8 391.6,344.77 391.8,344.6 392,344.33 392.2,344.64 392.4,344.45 392.6,344.84 392.8,345.1 393,345.1 393.2,345.24 393.4,345.04 393.6,344.83 393.8,344.66 394,344.8 394.2,344.95 394.4,345.44 394.6,345.22 394.8,344.8 395,345.05 395.2,345.33 395.4,345.2 395.6,344.86 395.8,344.73 396,344.84 396.2,345.07 396.4,344.88 396.6,344.73 396.8,345.12 397,345.2 397.2,344.83 397.4,345.04 397.6,345.39 397.8,345.36 398,345.35 398.2,345.07 398.4,344.95 398.6,345.14 398.8,345.12 399,344.55 399.2,344.51 399.4,345.09 399.6,345.23 399.8,345.05 400,344.93 400.2,344.51 400.4,344.09 400.6,343.77 400.8,344.12 401,345.38 401.2,345.93 401.4,345.17 401.6,344.87 401.8,345.53 402,345.26 402.2,344.38 402.4,344.85 402.6,345.29 402.8,344.79 403,345.36 403.2,345.6 403.4,345.36 403.6,345.68 403.8,345.4 404,344.69 404.2,344.95 404.4,345.22 404.6,345.21 404.8,345.33 405,344.91 405.2,344.81 405.4,344.93 405.6,344.86 405.8,344.94 406,345.1 406.2,345.17 406.4,344.73 406.6,344.84 406.8,344.8 407,345.24 407.2,345.42 407.4,344.8 407.6,345.38 407.8,345.34 408,344.62 408.2,344.28 408.4,344.71 408.6,345.22 408.8,345.37 409,345.33 409.2,344.97 409.4,345.02 409.6,345.55 409.8,345.2 410,345.79 410.2,345.89 410.4,345.25 410.6,345.89 410.8,345.8 411,345.36 411.2,345.31 411.4,345.59 411.6,344.67 411.8,344.42 412,345.04 412.2,344.72 412.4,344.86 412.6,345.1 412.8,345.21 413,345 413.2,345.17 413.4,344.75 413.6,344.17 413.8,344.41 414,344.71 414.2,344.9 414.4,345.02 414.6,344.94 414.8,345.14 415,345.56 415.2,345.07 415.4,344.39 415.6,344.21 415.8,344.25 416,344.91 416.2,345.55 416.4,344.86 416.6,345.17 416.8,345.44 417,344.3 417.2,344.68 417.4,345.66 417.6,345.36 417.8,344.75 418,345.09 418.2,345.2 418.4,344.86 418.6,345.12 418.8,345.21 419,344.96 419.2,344.59 419.4,344.92 419.6,344.6 419.8,344.48 420,345.17 420.2,345.22 420.4,345.04 420.6,344.96 420.8,345.28 421,344.93 421.2,344.73 421.4,345.12 421.6,344.76 421.8,344.39 422,345.18 422.2,345.72 422.4,345.08 422.6,345 422.8,345.31 423,345.5 423.2,345.7 423.4,344.65 423.6,344.25 423.8,345.3 424,345.83 424.2,345.28 424.4,344.49 424.6,344.73 424.8,344.9 425,344.82 425.2,344.68 425.4,344.89 425.6,345.37 425.8,345.29 426,344.83 426.2,344.24 426.4,344.19 426.6,344.79 426.8,344.64 427,344.69 427.2,345.67 427.4,345.32 427.6,344.78 427.8,345.22 428,345.53 428.2,345.08 428.4,344.78 428.6,344.99 428.8,344.96 429,345.09 429.2,345.25 429.4,345.45 429.6,344.89 429.8,344.86 430,345.56 430.2,345.19 430.4,345.08 430.6,345.39 430.8,345.36 431,345.02 431.2,345.01 431.4,344.89 431.6,344.45 431.8,344.4 432,344.55 432.2,344.85 432.4,345.28 432.6,345.29 432.8,345.47 433,345.38 433.2,344.81 433.4,344.63 433.6,344.56 433.8,344.68 434,345.3 434.2,344.98 434.4,344.76 434.6,345.16 434.8,345.24 435,345.11 435.2,345.08 435.4,345.08 435.6,345.05 435.8,344.65 436,344.62 436.2,345.36 436.4,344.79 436.6,344.82 436.8,344.94 437,344.98 437.2,345.3 437.4,345.21 437.6,345.32 437.8,344.8 438,345.13 438.2,345.79 438.4,345.09 438.6,344.91 438.8,345.32 439,344.98 439.2,344.56 439.4,345.1" fill="none" stroke="#22918f" stroke-width="1.9" stroke-linejoin="round" clip-path="url(#cr)"/>
<polyline points="261.3,369.4 261.55,369.08 261.8,368.77 262.05,368.46 262.3,368.14 262.55,367.83 262.8,367.52 263.05,367.21 263.3,366.9 263.55,366.59 263.8,366.28 264.05,365.97 264.3,365.66 264.55,365.35 264.8,365.04 265.05,364.74 265.3,364.43 265.55,364.12 265.8,363.82 266.05,363.51 266.3,363.21 266.55,362.9 266.8,362.6 267.05,362.29 267.3,361.99 267.55,361.69 267.8,361.38 268.05,361.08 268.3,360.78 268.55,360.47 268.8,360.17 269.05,359.87 269.3,359.57 269.55,359.26 269.8,358.96 270.05,358.66 270.3,358.36 270.55,358.05 270.8,357.75 271.05,357.45 271.3,357.15 271.55,356.84 271.8,356.54 272.05,356.24 272.3,355.94 272.55,355.63 272.8,355.33 273.05,355.03 273.3,354.72 273.55,354.42 273.8,354.12 274.05,353.82 274.3,353.52 274.55,353.22 274.8,352.92 275.05,352.62 275.3,352.32 275.55,352.02 275.8,351.72 276.05,351.43 276.3,351.13 276.55,350.84 276.8,350.54 277.05,350.25 277.3,349.96 277.55,349.67 277.8,349.39 278.05,349.1 278.3,348.82 278.55,348.53 278.8,348.25 279.05,347.98 279.3,347.7 279.55,347.42 279.8,347.15 280.05,346.88 280.3,346.61 280.55,346.35 280.8,346.08 281.05,345.82 281.3,345.56 281.55,345.3 281.8,345.04 282.05,344.79 282.3,344.54 282.55,344.29 282.8,344.04 283.05,343.79 283.3,343.55 283.55,343.3 283.8,343.07 284.05,342.83 284.3,342.59 284.55,342.36 284.8,342.13 285.05,341.9 285.3,341.67 285.55,341.45 285.8,341.22 286.05,341 286.3,340.78 286.55,340.57 286.8,340.35 287.05,340.14 287.3,339.93 287.55,339.72 287.8,339.52 288.05,339.31 288.3,339.11 288.55,338.92 288.8,338.72 289.05,338.54 289.3,338.35 289.55,338.18 289.8,338.01 290.05,337.84 290.3,337.69 290.55,337.54 290.8,337.4 291.05,337.27 291.3,337.15 291.55,337.04 291.8,336.94 292.05,336.85 292.3,336.77 292.55,336.7 292.8,336.64 293.05,336.59 293.3,336.55 293.55,336.52 293.8,336.51 294.05,336.5 294.3,336.5 294.55,336.51 294.8,336.53 295.05,336.57 295.3,336.61 295.55,336.66 295.8,336.73 296.05,336.8 296.3,336.88 296.55,336.97 296.8,337.07 297.05,337.18 297.3,337.3 297.55,337.42 297.8,337.56 298.05,337.71 298.3,337.86 298.55,338.03 298.8,338.22 299.05,338.42 299.3,338.64 299.55,338.88 299.8,339.13 300.05,339.41 300.3,339.72 300.55,340.04 300.8,340.4 301.05,340.78 301.3,341.18 301.55,341.62 301.8,342.07 302.05,342.55 302.3,343.06 302.55,343.58 302.8,344.13 303.05,344.69 303.3,345.27 303.55,345.87 303.8,346.49 304.05,347.12 304.3,347.77 304.55,348.43 304.8,349.1 305.05,349.78 305.3,350.48 305.55,351.18 305.8,351.89 306.05,352.6 306.3,353.32 306.55,354.05 306.8,354.77 307.05,355.49 307.3,356.19 307.55,356.86 307.8,357.5 308.05,358.07 308.3,358.59 308.55,359.03 308.8,359.39 309.05,359.65 309.3,359.82 309.55,359.89 309.8,359.84 310.05,359.68 310.3,359.42 310.55,359.06 310.8,358.6 311.05,358.05 311.3,357.42 311.55,356.72 311.8,355.96 312.05,355.16 312.3,354.33 312.55,353.48 312.8,352.63 313.05,351.78 313.3,350.95 313.55,350.13 313.8,349.33 314.05,348.55 314.3,347.79 314.55,347.05 314.8,346.34 315.05,345.65 315.3,344.99 315.55,344.37 315.8,343.78 316.05,343.22 316.3,342.69 316.55,342.2 316.8,341.74 317.05,341.32 317.3,340.94 317.55,340.6 317.8,340.29 318.05,340.03 318.3,339.8 318.55,339.62 318.8,339.49 319.05,339.41 319.3,339.38 319.55,339.4 319.8,339.49 320.05,339.64 320.3,339.87 320.55,340.18 320.8,340.59 321.05,341.1 321.3,341.71 321.55,342.41 321.8,343.19 322.05,344.02 322.3,344.9 322.55,345.81 322.8,346.73 323.05,347.64 323.3,348.54 323.55,349.4 323.8,350.23 324.05,351.01 324.3,351.74 324.55,352.41 324.8,353.01 325.05,353.51 325.3,353.9 325.55,354.13 325.8,354.16 326.05,353.99 326.3,353.64 326.55,353.12 326.8,352.47 327.05,351.71 327.3,350.86 327.55,349.94 327.8,348.98 328.05,348 328.3,347.02 328.55,346.08 328.8,345.18 329.05,344.35 329.3,343.6 329.55,342.94 329.8,342.37 330.05,341.89 330.3,341.52 330.55,341.28 330.8,341.17 331.05,341.24 331.3,341.46 331.55,341.83 331.8,342.31 332.05,342.9 332.3,343.57 332.55,344.3 332.8,345.07 333.05,345.88 333.3,346.69 333.55,347.49 333.8,348.27 334.05,349 334.3,349.63 334.55,350.13 334.8,350.45 335.05,350.56 335.3,350.44 335.55,350.11 335.8,349.62 336.05,348.99 336.3,348.26 336.55,347.47 336.8,346.64 337.05,345.83 337.3,345.06 337.55,344.36 337.8,343.78 338.05,343.34 338.2,343.34 338.4,341.08 338.6,341.34 338.8,341.73 339,342.24 339.2,342.86 339.4,343.54 339.6,344.28 339.8,345.04 340,345.78 340.2,346.48 340.4,347.1 340.6,347.61 340.8,348 341,348.25 341.2,348.34 341.4,348.26 341.6,348.03 341.8,347.65 342,347.14 342.2,346.53 342.4,345.84 342.6,345.12 342.8,344.4 343,343.73 343.2,343.13 343.4,342.64 343.6,342.29 343.8,342.11 344,342.09 344.2,342.24 344.4,342.56 344.6,343.02 344.8,343.59 345,344.24 345.2,344.92 345.4,345.59 345.6,346.2 345.8,346.71 346,347.09 346.2,347.31 346.4,347.35 346.6,347.22 346.8,346.91 347,346.46 347.2,345.9 347.4,345.28 347.6,344.64 347.8,344.04 348,344.19 348.2,343.71 348.4,342.86 348.6,342.93 348.8,342.96 349,342.84 349.2,344.25 349.4,344.82 349.6,344.82 349.8,345.34 350,345.74 350.2,346.41 350.4,346.08 350.6,345.94 350.8,346.55 351,346.6 351.2,346.1 351.4,345.17 351.6,344.64 351.8,344.23 352,343.55 352.2,343.39 352.4,343.97 352.6,343.85 352.8,343.82 353,344.46 353.2,344.36 353.4,344.59 353.6,345.34 353.8,345.78 354,346.08 354.2,345.99 354.4,345.55 354.6,345.7 354.8,345.51 355,344.64 355.2,344.23 355.4,344.49 355.6,344.17 355.8,343.39 356,343.88 356.2,344.94 356.4,345.39 356.6,345.05 356.8,344.67 357,345.5 357.2,346.02 357.4,345.79 357.6,345.57 357.8,345.52 358,345.21 358.2,344.42 358.4,344.18 358.6,343.88 358.8,343.93 359,344.37 359.2,344.15 359.4,344.24 359.6,344.72 359.8,344.8 360,345.21 360.2,345.71 360.4,345.48 360.6,344.61 360.8,343.85 361,344.15 361.2,344.39 361.4,344.25 361.6,344.2 361.8,344.01 362,345.05 362.2,345.56 362.4,345.09 362.6,344.9 362.8,345.12 363,345.07 363.2,344.47 363.4,344.41 363.6,344.41 363.8,344.81 364,344.57 364.2,344.6 364.4,345.03 364.6,344.87 364.8,344.82 365,344.87 365.2,344.54 365.4,344.16 365.6,344.48 365.8,344.49 366,344.36 366.2,344.73 366.4,345 366.6,344.91 366.8,344.88 367,344.65 367.2,344.68 367.4,344.51 367.6,343.91 367.8,344.29 368,344.45 368.2,344.26 368.4,344.59 368.6,344.97 368.8,344.84 369,344.47 369.2,344.38 369.4,344.52 369.6,344.53 369.8,344.58 370,345.09 370.2,345.03 370.4,344.62 370.6,344.39 370.8,344.21 371,344.09 371.2,344.02 371.4,344.22 371.6,344.61 371.8,344.89 372,344.7 372.2,344.6 372.4,344.34 372.6,344.7 372.8,345.56 373,345.12 373.2,344.72 373.4,344.78 373.6,344.8 373.8,344.59 374,344.03 374.2,344.35 374.4,344.48 374.6,344.41 374.8,344.46 375,344.18 375.2,344.57 375.4,345.07 375.6,344.82 375.8,344.38 376,344.51 376.2,344.48 376.4,343.99 376.6,344.08 376.8,343.95 377,344.06 377.2,344.47 377.4,344.42 377.6,344.18 377.8,343.94 378,344.38 378.2,344.86 378.4,344.93 378.6,344.71 378.8,344.26 379,344.28 379.2,344.55 379.4,344.35 379.6,344.62 379.8,344.51 380,344.59 380.2,344.6 380.4,344.05 380.6,344.18 380.8,344.03 381,343.93 381.2,344.23 381.4,343.94 381.6,343.74 381.8,343.8 382,343.88 382.2,344.43 382.4,344.42 382.6,344.12 382.8,344.26 383,344.05 383.2,344.03 383.4,344.16 383.6,343.95 383.8,343.68 384,343.67 384.2,344.27 384.4,344.68 384.6,344.37 384.8,344.11 385,344.06 385.2,343.79 385.4,343.47 385.6,344.09 385.8,344.26 386,343.92 386.2,344.48 386.4,344.33 386.6,343.94 386.8,344.07 387,344.02 387.2,344.01 387.4,344 387.6,344.19 387.8,344.36 388,343.83 388.2,343.41 388.4,343.52 388.6,343.67 388.8,343.63 389,343.97 389.2,343.96 389.4,343.63 389.6,343.82 389.8,343.46 390,343.51 390.2,344.07 390.4,344.28 390.6,343.91 390.8,343.48 391,343.73 391.2,343.74 391.4,343.35 391.6,343.62 391.8,343.87 392,343.73 392.2,343.53 392.4,343.66 392.6,343.8 392.8,343.41 393,343.65 393.2,344.04 393.4,343.64 393.6,343.59 393.8,344.15 394,343.97 394.2,343.27 394.4,343.32 394.6,343.86 394.8,343.48 395,343.6 395.2,343.76 395.4,343.34 395.6,343.61 395.8,343.67 396,343.68 396.2,343.61 396.4,343.4 396.6,343.38 396.8,343.33 397,343.43 397.2,343.46 397.4,343.24 397.6,343.32 397.8,343.35 398,343.38 398.2,343.52 398.4,343.21 398.6,342.88 398.8,342.88 399,343.33 399.2,343.34 399.4,343.23 399.6,343.14 399.8,342.82 400,342.66 400.2,342.27 400.4,342.47 400.6,342.88 400.8,342.77 401,342.91 401.2,342.68 401.4,342.85 401.6,342.72 401.8,342.36 402,342.39 402.2,342.25 402.4,342.74 402.6,342.44 402.8,342.19 403,342.52 403.2,342.49 403.4,342.49 403.6,342.59 403.8,342.62 404,342.49 404.2,342.54 404.4,342.57 404.6,342.31 404.8,341.85 405,342.02 405.2,342.19 405.4,342.34 405.6,342.26 405.8,341.58 406,341.92 406.2,341.99 406.4,341.36 406.6,341.75 406.8,341.72 407,341.72 407.2,341.79 407.4,341.55 407.6,341.77 407.8,341.23 408,341.13 408.2,341.41 408.4,341.4 408.6,341.57 408.8,341.85 409,341.63 409.2,341.21 409.4,341.71 409.6,341.85 409.8,341.49 410,340.93 410.2,340.4 410.4,340.58 410.6,340.8 410.8,340.99 411,341.6 411.2,341.16 411.4,340.4 411.6,340.77 411.8,340.87 412,340.93 412.2,340.76 412.4,340.25 412.6,340.73 412.8,340.98 413,340.19 413.2,339.95 413.4,340.15 413.6,339.84 413.8,339.97 414,340.28 414.2,339.97 414.4,339.73 414.6,340.12 414.8,340.19 415,339.59 415.2,339.08 415.4,338.96 415.6,339.51 415.8,340.02 416,339.54 416.2,338.68 416.4,338.89 416.6,339.27 416.8,339.39 417,339.18 417.2,338.94 417.4,338.62 417.6,338.25 417.8,338.47 418,338.58 418.2,338.76 418.4,339.06 418.6,338.55 418.8,338.58 419,338.66 419.2,338.11 419.4,338.46 419.6,337.94 419.8,337.29 420,337.57 420.2,337.84 420.4,338.19 420.6,338.34 420.8,337.81 421,337.66 421.2,337.69 421.4,337.77 421.6,337.72 421.8,337.54 422,337.29 422.2,337.15 422.4,336.99 422.6,336.75 422.8,336.61 423,336.46 423.2,336.56 423.4,336.29 423.6,336.43 423.8,336.74 424,336.62 424.2,336.42 424.4,336.47 424.6,336.58 424.8,336.55 425,336.27 425.2,336.4 425.4,336.1 425.6,335.73 425.8,335.49 426,335.75 426.2,335.85 426.4,335.25 426.6,335.51 426.8,335.33 427,334.73 427.2,334.25 427.4,334.28 427.6,335.05 427.8,335.04 428,334.86 428.2,334.91 428.4,334.31 428.6,333.69 428.8,333.64 429,333.98 429.2,333.87 429.4,333.65 429.6,333.72 429.8,333.48 430,332.91 430.2,332.8 430.4,333.14 430.6,332.91 430.8,332.42 431,332.26 431.2,332.32 431.4,332.4 431.6,332.32 431.8,331.94 432,331.83 432.2,331.85 432.4,331.5 432.6,331.1 432.8,330.94 433,331.09 433.2,331.24 433.4,331.34 433.6,331.18 433.8,331.01 434,330.62 434.2,330.61 434.4,330.92 434.6,330.76 434.8,330.33 435,330.02 435.2,329.89 435.4,329.47 435.6,329.36 435.8,329.17 436,328.71 436.2,329.04 436.4,329.42 436.6,329.34 436.8,328.98 437,328.65 437.2,328.72 437.4,328.49 437.6,327.76 437.8,328.2 438,328.79 438.2,328.42 438.4,328.01 438.6,327.4 438.8,327.25 439,327.34 439.2,326.86 439.4,326.53" fill="none" stroke="#25a585" stroke-width="1.9" stroke-linejoin="round" clip-path="url(#cr)"/>
<polyline points="261.3,369.22 261.55,368.91 261.8,368.6 262.05,368.28 262.3,367.97 262.55,367.66 262.8,367.35 263.05,367.04 263.3,366.72 263.55,366.41 263.8,366.11 264.05,365.8 264.3,365.49 264.55,365.18 264.8,364.87 265.05,364.57 265.3,364.26 265.55,363.95 265.8,363.65 266.05,363.34 266.3,363.04 266.55,362.73 266.8,362.43 267.05,362.13 267.3,361.82 267.55,361.52 267.8,361.21 268.05,360.91 268.3,360.61 268.55,360.31 268.8,360 269.05,359.7 269.3,359.4 269.55,359.1 269.8,358.79 270.05,358.49 270.3,358.19 270.55,357.89 270.8,357.58 271.05,357.28 271.3,356.98 271.55,356.68 271.8,356.37 272.05,356.07 272.3,355.77 272.55,355.47 272.8,355.16 273.05,354.86 273.3,354.56 273.55,354.26 273.8,353.95 274.05,353.65 274.3,353.35 274.55,353.05 274.8,352.75 275.05,352.45 275.3,352.15 275.55,351.85 275.8,351.56 276.05,351.26 276.3,350.97 276.55,350.67 276.8,350.38 277.05,350.09 277.3,349.8 277.55,349.51 277.8,349.22 278.05,348.94 278.3,348.65 278.55,348.37 278.8,348.09 279.05,347.81 279.3,347.53 279.55,347.26 279.8,346.99 280.05,346.71 280.3,346.43 280.55,346.16 280.8,345.88 281.05,345.61 281.3,345.34 281.55,345.07 281.8,344.8 282.05,344.54 282.3,344.28 282.55,344.02 282.8,343.76 283.05,343.51 283.3,343.25 283.55,343 283.8,342.75 284.05,342.51 284.3,342.26 284.55,342.02 284.8,341.78 285.05,341.54 285.3,341.31 285.55,341.08 285.8,340.85 286.05,340.62 286.3,340.39 286.55,340.17 286.8,339.95 287.05,339.73 287.3,339.51 287.55,339.3 287.8,339.09 288.05,338.88 288.3,338.68 288.55,338.48 288.8,338.28 289.05,338.1 289.3,337.92 289.55,337.74 289.8,337.57 290.05,337.42 290.3,337.27 290.55,337.13 290.8,337 291.05,336.88 291.3,336.77 291.55,336.68 291.8,336.59 292.05,336.51 292.3,336.45 292.55,336.39 292.8,336.35 293.05,336.32 293.3,336.3 293.55,336.29 293.8,336.29 294.05,336.3 294.3,336.32 294.55,336.36 294.8,336.4 295.05,336.46 295.3,336.52 295.55,336.6 295.8,336.68 296.05,336.78 296.3,336.88 296.55,337 296.8,337.12 297.05,337.25 297.3,337.4 297.55,337.55 297.8,337.72 298.05,337.9 298.3,338.1 298.55,338.32 298.8,338.56 299.05,338.82 299.3,339.1 299.55,339.41 299.8,339.74 300.05,340.11 300.3,340.5 300.55,340.91 300.8,341.36 301.05,341.82 301.3,342.32 301.55,342.83 301.8,343.37 302.05,343.92 302.3,344.5 302.55,345.09 302.8,345.7 303.05,346.32 303.3,346.96 303.55,347.62 303.8,348.28 304.05,348.95 304.3,349.64 304.55,350.33 304.8,351.02 305.05,351.72 305.3,352.39 305.55,353.07 305.8,353.75 306.05,354.42 306.3,355.06 306.55,355.68 306.8,356.26 307.05,356.79 307.3,357.25 307.55,357.64 307.8,357.96 308.05,358.19 308.3,358.32 308.55,358.36 308.8,358.3 309.05,358.13 309.3,357.86 309.55,357.51 309.8,357.06 310.05,356.53 310.3,355.92 310.55,355.25 310.8,354.53 311.05,353.77 311.3,352.97 311.55,352.16 311.8,351.34 312.05,350.53 312.3,349.73 312.55,348.94 312.8,348.17 313.05,347.42 313.3,346.68 313.55,345.97 313.8,345.28 314.05,344.61 314.3,343.97 314.55,343.36 314.8,342.79 315.05,342.24 315.3,341.72 315.55,341.24 315.8,340.8 316.05,340.38 316.3,340 316.55,339.66 316.8,339.36 317.05,339.09 317.3,338.86 317.55,338.68 317.8,338.54 318.05,338.45 318.3,338.4 318.55,338.42 318.8,338.48 319.05,338.62 319.3,338.82 319.55,339.1 319.8,339.47 320.05,339.94 320.3,340.5 320.55,341.14 320.8,341.85 321.05,342.61 321.3,343.41 321.55,344.23 321.8,345.05 322.05,345.87 322.3,346.66 322.55,347.42 322.8,348.14 323.05,348.82 323.3,349.44 323.55,350 323.8,350.5 324.05,350.91 324.3,351.21 324.55,351.38 324.8,351.37 325.05,351.18 325.3,350.84 325.55,350.35 325.8,349.75 326.05,349.05 326.3,348.27 326.55,347.42 326.8,346.54 327.05,345.64 327.3,344.74 327.55,343.86 327.8,343.03 328.05,342.25 328.3,341.55 328.55,340.92 328.8,340.38 329.05,339.92 329.3,339.56 329.55,339.31 329.8,339.19 330.05,339.22 330.3,339.4 330.55,339.7 330.8,340.1 331.05,340.6 331.3,341.16 331.55,341.78 331.8,342.42 332.05,343.09 332.3,343.76 332.55,344.41 332.8,345.03 333.05,345.6 333.3,346.09 333.55,346.46 333.8,346.68 334.05,346.72 334.3,346.57 334.55,346.25 334.8,345.79 335.05,345.22 335.3,344.57 335.55,343.86 335.8,343.13 336.05,342.4 336.3,341.7 336.55,341.07 336.8,340.53 337.05,340.11 337.3,339.11 337.55,338.26 337.8,338.61 338.05,339.14 338.2,339.5 338.4,340.05 338.6,340.63 338.8,341.22 339,341.79 339.2,342.32 339.4,342.78 339.6,343.15 339.8,343.41 340,343.56 340.2,343.58 340.4,343.48 340.6,343.24 340.8,342.9 341,342.44 341.2,341.91 341.4,341.32 341.6,340.7 341.8,340.08 342,339.48 342.2,338.96 342.4,338.52 342.6,338.19 342.8,338 343,337.94 343.2,338.02 343.4,338.24 343.6,338.56 343.8,338.97 344,339.44 344.2,339.92 344.4,340.39 344.6,340.81 344.8,341.14 345,341.37 345.2,341.48 345.4,341.45 345.6,341.29 345.8,341.01 346,340.61 346.2,340.14 346.4,339.61 346.6,339.08 346.8,338.56 347,338.12 347.2,337.77 347.4,337.54 347.6,337.46 347.8,337.51 348,337.93 348.2,337.79 348.4,338.35 348.6,338.81 348.8,339.47 349,339.48 349.2,339.47 349.4,339.78 349.6,339.85 349.8,340.08 350,339.36 350.2,338.88 350.4,338.47 350.6,338.08 350.8,337.55 351,336.81 351.2,336.4 351.4,336.5 351.6,336.65 351.8,336.69 352,337 352.2,337.46 352.4,338.18 352.6,337.91 352.8,337.89 353,337.97 353.2,338.04 353.4,337.73 353.6,337.22 353.8,336.72 354,336.5 354.2,336.32 354.4,336.42 354.6,336.41 354.8,336.18 355,336.1 355.2,335.96 355.4,336.01 355.6,336.04 355.8,336.11 356,336.28 356.2,336.34 356.4,336.35 356.6,336.15 356.8,336.04 357,335.63 357.2,335.01 357.4,334.53 357.6,334.74 357.8,335.12 358,335.24 358.2,335.01 358.4,335 358.6,335.08 358.8,335.16 359,335.21 359.2,335.31 359.4,335 359.6,334.59 359.8,334.1 360,333.94 360.2,334 360.4,333.88 360.6,334.22 360.8,334.19 361,334.52 361.2,334.06 361.4,333.87 361.6,333.49 361.8,333.44 362,332.96 362.2,332.89 362.4,332.45 362.6,332.69 362.8,332.72 363,332.96 363.2,332.89 363.4,332.7 363.6,332.61 363.8,332.55 364,332.53 364.2,332.46 364.4,332.45 364.6,332.18 364.8,331.91 365,331.56 365.2,331.34 365.4,331.32 365.6,331.23 365.8,331.56 366,331.54 366.2,331.71 366.4,330.98 366.6,330.81 366.8,330.6 367,330.88 367.2,330.71 367.4,330.5 367.6,330.36 367.8,330.29 368,330.14 368.2,330.1 368.4,329.98 368.6,329.88 368.8,329.66 369,329.61 369.2,329.36 369.4,329.32 369.6,329.05 369.8,329.12 370,328.8 370.2,328.72 370.4,328.46 370.6,328.3 370.8,328.36 371,328.31 371.2,328.31 371.4,328.18 371.6,327.93 371.8,327.8 372,327.67 372.2,327.97 372.4,327.86 372.6,327.79 372.8,327.3 373,327.02 373.2,326.72 373.4,326.76 373.6,326.78 373.8,326.64 374,326.15 374.2,325.63 374.4,325.44 374.6,325.25 374.8,325.44 375,325.17 375.2,325.26 375.4,325.24 375.6,324.93 375.8,324.73 376,324.44 376.2,324.75 376.4,324.64 376.6,324.38 376.8,323.94 377,324.05 377.2,323.89 377.4,323.84 377.6,323.47 377.8,323.28 378,322.99 378.2,322.5 378.4,322.39 378.6,322.46 378.8,322.64 379,322.33 379.2,322.29 379.4,321.91 379.6,321.9 379.8,321.77 380,321.88 380.2,321.85 380.4,321.68 380.6,321.44 380.8,321.35 381,320.88 381.2,320.71 381.4,320.49 381.6,320.58 381.8,320.34 382,320.16 382.2,319.51 382.4,319.18 382.6,319.16 382.8,319.26 383,319.3 383.2,319.12 383.4,318.96 383.6,318.86 383.8,318.56 384,318.14 384.2,318.05 384.4,318.14 384.6,318.45 384.8,318.2 385,317.85 385.2,317.56 385.4,317.6 385.6,317.57 385.8,317.29 386,316.87 386.2,316.49 386.4,316.28 386.6,316.03 386.8,315.87 387,315.42 387.2,315.39 387.4,315.16 387.6,315.16 387.8,314.9 388,314.68 388.2,314.86 388.4,314.55 388.6,314.49 388.8,314.18 389,314.04 389.2,313.67 389.4,313.5 389.6,313.38 389.8,313.24 390,312.79 390.2,312.76 390.4,312.94 390.6,312.9 390.8,312.7 391,312.46 391.2,312.5 391.4,312.16 391.6,311.89 391.8,311.66 392,311.94 392.2,311.71 392.4,311.58 392.6,311.14 392.8,311.02 393,310.54 393.2,310.27 393.4,310.21 393.6,310.12 393.8,309.93 394,309.4 394.2,309.31 394.4,309.14 394.6,309.17 394.8,308.88 395,308.57 395.2,308.2 395.4,308.11 395.6,308 395.8,308.22 396,307.9 396.2,307.78 396.4,307.18 396.6,307.01 396.8,306.87 397,306.82 397.2,306.77 397.4,306.22 397.6,306.34 397.8,306.37 398,306.27 398.2,305.5 398.4,304.9 398.6,304.84 398.8,304.7 399,304.65 399.2,304.32 399.4,304.66 399.6,304.39 399.8,304.22 400,303.91 400.2,303.79 400.4,303.66 400.6,303.16 400.8,303 401,302.73 401.2,302.56 401.4,302.19 401.6,301.86 401.8,301.59 402,301.5 402.2,301.72 402.4,301.6 402.6,301.32 402.8,300.91 403,300.76 403.2,300.28 403.4,299.99 403.6,299.39 403.8,299.26 404,299.01 404.2,299.1 404.4,299.15 404.6,299.07 404.8,299.08 405,298.93 405.2,298.77 405.4,298.32 405.6,298.34 405.8,298.26 406,298.02 406.2,297.45 406.4,297.16 406.6,297.19 406.8,297.02 407,296.86 407.2,296.34 407.4,296.15 407.6,295.93 407.8,295.81 408,295.65 408.2,295.29 408.4,295.12 408.6,294.62 408.8,294.37 409,294.22 409.2,294.31 409.4,294.26 409.6,294.16 409.8,293.87 410,293.52 410.2,293.42 410.4,293.39 410.6,293.22 410.8,292.73 411,292.54 411.2,292.49 411.4,292.29 411.6,291.99 411.8,291.63 412,291.43 412.2,291.42 412.4,291.02 412.6,290.92 412.8,290.28 413,290.15 413.2,289.95 413.4,289.7 413.6,289.45 413.8,288.95 414,288.84 414.2,288.8 414.4,288.92 414.6,288.7 414.8,288.58 415,288.01 415.2,288.2 415.4,287.79 415.6,287.68 415.8,287.19 416,287.05 416.2,286.87 416.4,286.37 416.6,286.26 416.8,286.17 417,286.15 417.2,285.63 417.4,285.35 417.6,285.35 417.8,285.05 418,284.63 418.2,284.26 418.4,284.18 418.6,284.08 418.8,283.83 419,283.85 419.2,283.79 419.4,283.74 419.6,283.54 419.8,283.11 420,282.4 420.2,282.09 420.4,282.03 420.6,282.23 420.8,281.87 421,281.87 421.2,281.34 421.4,281.34 421.6,280.93 421.8,281.09 422,280.96 422.2,280.72 422.4,280.41 422.6,279.95 422.8,279.77 423,279.56 423.2,279.5 423.4,279 423.6,278.5 423.8,278.17 424,278.19 424.2,277.97 424.4,277.6 424.6,277.25 424.8,277.29 425,277.27 425.2,277.25 425.4,276.96 425.6,276.75 425.8,276.58 426,276.34 426.2,276.39 426.4,275.93 426.6,275.77 426.8,274.94 427,274.76 427.2,274.44 427.4,274.4 427.6,274.24 427.8,273.93 428,273.84 428.2,273.28 428.4,273.15 428.6,273.09 428.8,273.18 429,273.12 429.2,272.57 429.4,272.13 429.6,272.03 429.8,272.08 430,272.18 430.2,271.75 430.4,271.55 430.6,271.14 430.8,271.02 431,270.73 431.2,270.43 431.4,270.32 431.6,270.02 431.8,270.04 432,269.4 432.2,268.98 432.4,268.58 432.6,268.65 432.8,268.77 433,268.66 433.2,268.34 433.4,268.04 433.6,267.72 433.8,267.54 434,267.29 434.2,267 434.4,266.82 434.6,266.32 434.8,266.08 435,265.89 435.2,265.78 435.4,265.75 435.6,265.46 435.8,265.31 436,265.23 436.2,265.04 436.4,264.76 436.6,264.24 436.8,263.97 437,263.61 437.2,263.63 437.4,263.38 437.6,263.12 437.8,262.58 438,262.57 438.2,262.63 438.4,262.87 438.6,262.44 438.8,262.25 439,261.99 439.2,262.08 439.4,261.65" fill="none" stroke="#55c667" stroke-width="1.9" stroke-linejoin="round" clip-path="url(#cr)"/>
<polyline points="261.3,369.37 261.55,369.05 261.8,368.74 262.05,368.42 262.3,368.11 262.55,367.8 262.8,367.49 263.05,367.18 263.3,366.87 263.55,366.55 263.8,366.25 264.05,365.94 264.3,365.63 264.55,365.32 264.8,365.01 265.05,364.7 265.3,364.4 265.55,364.09 265.8,363.79 266.05,363.48 266.3,363.17 266.55,362.87 266.8,362.56 267.05,362.26 267.3,361.96 267.55,361.65 267.8,361.35 268.05,361.04 268.3,360.74 268.55,360.44 268.8,360.13 269.05,359.83 269.3,359.53 269.55,359.23 269.8,358.92 270.05,358.62 270.3,358.32 270.55,358.02 270.8,357.71 271.05,357.41 271.3,357.11 271.55,356.8 271.8,356.5 272.05,356.2 272.3,355.9 272.55,355.59 272.8,355.29 273.05,354.99 273.3,354.68 273.55,354.38 273.8,354.08 274.05,353.78 274.3,353.47 274.55,353.17 274.8,352.87 275.05,352.57 275.3,352.27 275.55,351.98 275.8,351.68 276.05,351.38 276.3,351.09 276.55,350.79 276.8,350.5 277.05,350.21 277.3,349.92 277.55,349.63 277.8,349.34 278.05,349.05 278.3,348.77 278.55,348.49 278.8,348.21 279.05,347.93 279.3,347.65 279.55,347.38 279.8,347.1 280.05,346.83 280.3,346.54 280.55,346.25 280.8,345.97 281.05,345.69 281.3,345.41 281.55,345.13 281.8,344.86 282.05,344.59 282.3,344.32 282.55,344.05 282.8,343.78 283.05,343.52 283.3,343.26 283.55,343 283.8,342.75 284.05,342.5 284.3,342.25 284.55,342 284.8,341.75 285.05,341.51 285.3,341.27 285.55,341.03 285.8,340.79 286.05,340.56 286.3,340.33 286.55,340.1 286.8,339.88 287.05,339.65 287.3,339.43 287.55,339.21 287.8,339 288.05,338.79 288.3,338.58 288.55,338.39 288.8,338.19 289.05,338.01 289.3,337.83 289.55,337.66 289.8,337.5 290.05,337.34 290.3,337.2 290.55,337.07 290.8,336.96 291.05,336.85 291.3,336.75 291.55,336.67 291.8,336.6 292.05,336.54 292.3,336.49 292.55,336.45 292.8,336.42 293.05,336.41 293.3,336.41 293.55,336.42 293.8,336.44 294.05,336.47 294.3,336.51 294.55,336.57 294.8,336.64 295.05,336.72 295.3,336.8 295.55,336.9 295.8,337.01 296.05,337.13 296.3,337.26 296.55,337.4 296.8,337.55 297.05,337.71 297.3,337.89 297.55,338.09 297.8,338.3 298.05,338.53 298.3,338.79 298.55,339.06 298.8,339.37 299.05,339.7 299.3,340.06 299.55,340.45 299.8,340.87 300.05,341.31 300.3,341.79 300.55,342.3 300.8,342.83 301.05,343.39 301.3,343.97 301.55,344.58 301.8,345.22 302.05,345.88 302.3,346.57 302.55,347.28 302.8,348.03 303.05,348.8 303.3,349.61 303.55,350.45 303.8,351.33 304.05,352.24 304.3,353.19 304.55,354.17 304.8,355.18 305.05,356.21 305.3,357.21 305.55,358.21 305.8,359.18 306.05,360.11 306.3,360.98 306.55,361.76 306.8,362.44 307.05,362.99 307.3,363.41 307.55,363.67 307.8,363.77 308.05,363.7 308.3,363.46 308.55,363.06 308.8,362.5 309.05,361.79 309.3,360.96 309.55,360.02 309.8,359 310.05,357.9 310.3,356.77 310.55,355.61 310.8,354.45 311.05,353.31 311.3,352.2 311.55,351.13 311.8,350.11 312.05,349.13 312.3,348.2 312.55,347.32 312.8,346.49 313.05,345.7 313.3,344.96 313.55,344.26 313.8,343.6 314.05,342.99 314.3,342.41 314.55,341.88 314.8,341.38 315.05,340.93 315.3,340.51 315.55,340.13 315.8,339.78 316.05,339.48 316.3,339.21 316.55,338.99 316.8,338.81 317.05,338.67 317.3,338.59 317.55,338.55 317.8,338.57 318.05,338.65 318.3,338.79 318.55,339.01 318.8,339.3 319.05,339.69 319.3,340.17 319.55,340.75 319.8,341.4 320.05,342.12 320.3,342.88 320.55,343.68 320.8,344.5 321.05,345.31 321.3,346.12 321.55,346.9 321.8,347.64 322.05,348.35 322.3,349 322.55,349.59 322.8,350.13 323.05,350.59 323.3,350.97 323.55,351.22 323.8,351.33 324.05,351.27 324.3,351.03 324.55,350.64 324.8,350.12 325.05,349.48 325.3,348.74 325.55,347.93 325.8,347.07 326.05,346.17 326.3,345.26 326.55,344.35 326.8,343.47 327.05,342.64 327.3,341.87 327.55,341.17 327.8,340.55 328.05,340.01 328.3,339.56 328.55,339.21 328.8,338.97 329.05,338.86 329.3,338.9 329.55,339.07 329.8,339.36 330.05,339.76 330.3,340.23 330.55,340.76 330.8,341.34 331.05,341.94 331.3,342.56 331.55,343.16 331.8,343.75 332.05,344.31 332.3,344.8 332.55,345.2 332.8,345.48 333.05,345.61 333.3,345.57 333.55,345.35 333.8,344.97 334.05,344.47 334.3,343.87 334.55,343.2 334.8,342.48 335.05,341.74 335.3,341.02 335.55,340.33 335.8,339.7 336.05,339.18 336.3,338.81 336.55,337.37 336.8,337.04 337.05,337.37 337.3,337.83 337.55,338.39 337.8,339 338.05,339.62 338.2,339.97 338.4,340.4 338.6,340.77 338.8,341.05 339,341.24 339.2,341.32 339.4,341.28 339.6,341.12 339.8,340.86 340,340.49 340.2,340.03 340.4,339.5 340.6,338.92 340.8,338.31 341,337.7 341.2,337.12 341.4,336.59 341.6,336.15 341.8,335.8 342,335.58 342.2,335.47 342.4,335.48 342.6,335.61 342.8,335.84 343,336.13 343.2,336.47 343.4,336.82 343.6,337.15 343.8,337.43 344,337.64 344.2,337.76 344.4,337.77 344.6,337.67 344.8,337.46 345,337.14 345.2,336.73 345.4,336.26 345.6,335.75 345.8,335.23 346,334.72 346.2,334.28 346.4,333.91 346.6,333.65 346.8,333.49 347,333.46 347.2,333.52 347.4,333.66 347.6,333.85 347.8,334.06 348,333.72 348.2,334.13 348.4,334.12 348.6,334.25 348.8,334.35 349,334.44 349.2,334.23 349.4,333.24 349.6,332.71 349.8,331.92 350,331.64 350.2,331.32 350.4,331.53 350.6,331.49 350.8,331.41 351,331.29 351.2,331.19 351.4,331.15 351.6,331.49 351.8,331.67 352,331.72 352.2,331.46 352.4,331.09 352.6,330.63 352.8,329.97 353,329.89 353.2,329.62 353.4,329.3 353.6,328.7 353.8,328.62 354,328.77 354.2,328.94 354.4,328.79 354.6,328.73 354.8,328.67 355,328.7 355.2,328.48 355.4,328.17 355.6,327.78 355.8,327.61 356,327.74 356.2,327.38 356.4,326.83 356.6,326.39 356.8,326.41 357,326.31 357.2,325.99 357.4,325.7 357.6,325.81 357.8,326.32 358,326.18 358.2,326 358.4,325.18 358.6,325.04 358.8,324.76 359,324.59 359.2,324.12 359.4,323.67 359.6,323.6 359.8,323.67 360,323.75 360.2,323.58 360.4,323.27 360.6,323.26 360.8,322.81 361,322.49 361.2,321.86 361.4,321.69 361.6,322.04 361.8,322 362,321.89 362.2,321.56 362.4,321.35 362.6,320.91 362.8,320.37 363,320.15 363.2,319.86 363.4,319.65 363.6,319.47 363.8,319.84 364,319.81 364.2,319.63 364.4,319.05 364.6,318.63 364.8,318.12 365,317.96 365.2,317.47 365.4,317.49 365.6,317.54 365.8,317.62 366,317.51 366.2,316.91 366.4,316.49 366.6,316.27 366.8,316.16 367,316.31 367.2,316.05 367.4,315.95 367.6,315.57 367.8,315.44 368,315.31 368.2,315.11 368.4,314.76 368.6,314.55 368.8,314.49 369,314.28 369.2,313.63 369.4,313.29 369.6,313.37 369.8,313.35 370,313.16 370.2,312.55 370.4,312.38 370.6,312.19 370.8,312.16 371,311.86 371.2,311.48 371.4,311.56 371.6,311.49 371.8,311.31 372,310.72 372.2,310.55 372.4,310.65 372.6,310.52 372.8,310.19 373,309.88 373.2,309.39 373.4,309.07 373.6,308.98 373.8,309.02 374,308.96 374.2,308.45 374.4,308.01 374.6,307.85 374.8,307.74 375,308 375.2,307.62 375.4,307.4 375.6,306.85 375.8,306.63 376,306.71 376.2,306.78 376.4,306.74 376.6,306.01 376.8,305.63 377,305.48 377.2,305.39 377.4,304.87 377.6,304.88 377.8,304.54 378,304.77 378.2,304.16 378.4,304.11 378.6,303.89 378.8,303.61 379,303.41 379.2,303.03 379.4,303.2 379.6,303.21 379.8,303.03 380,302.44 380.2,302.26 380.4,301.96 380.6,302.01 380.8,301.31 381,301.14 381.2,300.97 381.4,301.01 381.6,300.94 381.8,300.86 382,300.97 382.2,300.58 382.4,299.91 382.6,299.05 382.8,298.89 383,298.67 383.2,298.94 383.4,298.45 383.6,298.68 383.8,298.41 384,298.29 384.2,297.96 384.4,297.84 384.6,297.99 384.8,297.74 385,297.55 385.2,297.34 385.4,297.08 385.6,296.79 385.8,296.29 386,296.27 386.2,295.84 386.4,295.83 386.6,295.31 386.8,295.47 387,295.33 387.2,295.15 387.4,294.84 387.6,294.58 387.8,294.65 388,294.41 388.2,294.24 388.4,293.9 388.6,293.42 388.8,293.31 389,293.27 389.2,293.18 389.4,292.98 389.6,292.86 389.8,292.97 390,292.9 390.2,292.66 390.4,292.25 390.6,292.2 390.8,291.88 391,291.66 391.2,291.35 391.4,291.03 391.6,291.07 391.8,290.51 392,290.62 392.2,290.5 392.4,290.36 392.6,290.07 392.8,289.78 393,289.65 393.2,289.44 393.4,289.12 393.6,288.83 393.8,288.39 394,288.25 394.2,288.26 394.4,288.36 394.6,288.2 394.8,288.03 395,287.64 395.2,287.65 395.4,287.21 395.6,287.2 395.8,286.7 396,286.6 396.2,286.61 396.4,286.53 396.6,286.2 396.8,285.73 397,285.38 397.2,285.68 397.4,285.29 397.6,285.18 397.8,284.6 398,284.44 398.2,284.35 398.4,284.42 398.6,284.52 398.8,284.19 399,283.72 399.2,283.41 399.4,283.17 399.6,283.32 399.8,282.81 400,282.76 400.2,282.11 400.4,281.97 400.6,281.44 400.8,281.24 401,281.28 401.2,281.23 401.4,281.07 401.6,280.58 401.8,280.35 402,280.26 402.2,280.4 402.4,280.35 402.6,280.22 402.8,279.86 403,279.78 403.2,279.44 403.4,279.31 403.6,278.82 403.8,278.6 404,278.46 404.2,278.45 404.4,278.4 404.6,277.94 404.8,277.81 405,278 405.2,278.06 405.4,277.88 405.6,277.32 405.8,277.23 406,276.88 406.2,277.18 406.4,276.83 406.6,276.71 406.8,276.24 407,275.83 407.2,275.51 407.4,275 407.6,274.95 407.8,275.15 408,274.92 408.2,275.16 408.4,274.84 408.6,275.05 408.8,274.5 409,273.9 409.2,273.25 409.4,273.23 409.6,273.23 409.8,273.29 410,272.93 410.2,273.03 410.4,272.99 410.6,272.81 410.8,272.39 411,272.14 411.2,271.72 411.4,271.4 411.6,270.83 411.8,270.66 412,270.33 412.2,270.48 412.4,270.4 412.6,270.74 412.8,270.35 413,270.24 413.2,269.68 413.4,269.66 413.6,269.51 413.8,269.34 414,269.08 414.2,268.66 414.4,268.43 414.6,268.02 414.8,268.08 415,267.82 415.2,267.61 415.4,267.43 415.6,267.36 415.8,267.12 416,266.58 416.2,266.3 416.4,266.14 416.6,266.11 416.8,265.81 417,265.59 417.2,265.54 417.4,265.81 417.6,266.02 417.8,265.63 418,265.25 418.2,264.81 418.4,264.97 418.6,264.74 418.8,264.65 419,264.48 419.2,264.44 419.4,264.18 419.6,263.52 419.8,263.06 420,262.62 420.2,262.86 420.4,262.69 420.6,262.84 420.8,262.4 421,262.11 421.2,261.85 421.4,261.68 421.6,261.6 421.8,261.35 422,261.15 422.2,260.8 422.4,260.59 422.6,260.27 422.8,260.1 423,259.95 423.2,259.47 423.4,259.17 423.6,258.92 423.8,259.32 424,259.44 424.2,259.16 424.4,258.94 424.6,258.68 424.8,258.49 425,258.04 425.2,258.06 425.4,258.11 425.6,257.81 425.8,257.2 426,256.97 426.2,256.7 426.4,256.6 426.6,256.42 426.8,256.24 427,255.99 427.2,255.71 427.4,255.64 427.6,255.78 427.8,255.55 428,255.5 428.2,255.2 428.4,254.91 428.6,254.74 428.8,254.65 429,254.52 429.2,254.1 429.4,253.64 429.6,253.7 429.8,253.59 430,253.36 430.2,252.73 430.4,252.53 430.6,252.2 430.8,252.35 431,252.03 431.2,251.84 431.4,251.65 431.6,251.64 431.8,251.72 432,251.22 432.2,251.09 432.4,250.86 432.6,250.84 432.8,250.66 433,250.59 433.2,250.35 433.4,250.27 433.6,249.98 433.8,249.78 434,249.44 434.2,249.19 434.4,249.26 434.6,249 434.8,248.74 435,248.3 435.2,248.19 435.4,247.76 435.6,247.35 435.8,246.98 436,247.11 436.2,247.22 436.4,247.02 436.6,246.49 436.8,245.85 437,245.66 437.2,245.65 437.4,245.83 437.6,245.82 437.8,245.55 438,245.53 438.2,245.1 438.4,245.02 438.6,244.63 438.8,244.19 439,244.4 439.2,244.13 439.4,244.42" fill="none" stroke="#b4de2c" stroke-width="1.9" stroke-linejoin="round" clip-path="url(#cr)"/>
<rect x="39.5" y="215.5" width="180" height="154" fill="none" stroke="#2a2a2a" stroke-width="0.85"/><path d="M42.3,369.5v-2.4M42.3,215.5v2.4M58.49,369.5v-1.3M58.49,215.5v1.3M67.96,369.5v-1.3M67.96,215.5v1.3M74.68,369.5v-1.3M74.68,215.5v1.3M79.89,369.5v-1.3M79.89,215.5v1.3M84.15,369.5v-1.3M84.15,215.5v1.3M87.75,369.5v-1.3M87.75,215.5v1.3M90.87,369.5v-1.3M90.87,215.5v1.3M93.62,369.5v-1.3M93.62,215.5v1.3M96.08,369.5v-2.4M96.08,215.5v2.4M112.27,369.5v-1.3M112.27,215.5v1.3M121.74,369.5v-1.3M121.74,215.5v1.3M128.46,369.5v-1.3M128.46,215.5v1.3M133.67,369.5v-1.3M133.67,215.5v1.3M137.93,369.5v-1.3M137.93,215.5v1.3M141.53,369.5v-1.3M141.53,215.5v1.3M144.65,369.5v-1.3M144.65,215.5v1.3M147.4,369.5v-1.3M147.4,215.5v1.3M149.86,369.5v-2.4M149.86,215.5v2.4M166.05,369.5v-1.3M166.05,215.5v1.3M175.52,369.5v-1.3M175.52,215.5v1.3M182.24,369.5v-1.3M182.24,215.5v1.3M187.45,369.5v-1.3M187.45,215.5v1.3M191.71,369.5v-1.3M191.71,215.5v1.3M195.31,369.5v-1.3M195.31,215.5v1.3M198.43,369.5v-1.3M198.43,215.5v1.3M201.18,369.5v-1.3M201.18,215.5v1.3M203.64,369.5v-2.4M203.64,215.5v2.4M39.5,369.5h1.9M219.5,369.5h-1.9M39.5,355.5h1M219.5,355.5h-1M39.5,347.31h1M219.5,347.31h-1M39.5,341.5h1M219.5,341.5h-1M39.5,337h1M219.5,337h-1M39.5,333.32h1M219.5,333.32h-1M39.5,330.2h1M219.5,330.2h-1M39.5,327.51h1M219.5,327.51h-1M39.5,325.13h1M219.5,325.13h-1M39.5,323h1.9M219.5,323h-1.9M39.5,309h1M219.5,309h-1M39.5,300.81h1M219.5,300.81h-1M39.5,295h1M219.5,295h-1M39.5,290.5h1M219.5,290.5h-1M39.5,286.82h1M219.5,286.82h-1M39.5,283.7h1M219.5,283.7h-1M39.5,281.01h1M219.5,281.01h-1M39.5,278.63h1M219.5,278.63h-1M39.5,276.5h1.9M219.5,276.5h-1.9M39.5,262.5h1M219.5,262.5h-1M39.5,254.31h1M219.5,254.31h-1M39.5,248.5h1M219.5,248.5h-1M39.5,244h1M219.5,244h-1M39.5,240.32h1M219.5,240.32h-1M39.5,237.2h1M219.5,237.2h-1M39.5,234.51h1M219.5,234.51h-1M39.5,232.13h1M219.5,232.13h-1M39.5,230h1.9M219.5,230h-1.9M39.5,216h1M219.5,216h-1" stroke="#2a2a2a" stroke-width="0.75" fill="none"/>
<rect x="259.5" y="215.5" width="180" height="154" fill="none" stroke="#2a2a2a" stroke-width="0.85"/><path d="M262.3,369.5v-2.4M262.3,215.5v2.4M278.49,369.5v-1.3M278.49,215.5v1.3M287.96,369.5v-1.3M287.96,215.5v1.3M294.68,369.5v-1.3M294.68,215.5v1.3M299.89,369.5v-1.3M299.89,215.5v1.3M304.15,369.5v-1.3M304.15,215.5v1.3M307.75,369.5v-1.3M307.75,215.5v1.3M310.87,369.5v-1.3M310.87,215.5v1.3M313.62,369.5v-1.3M313.62,215.5v1.3M316.08,369.5v-2.4M316.08,215.5v2.4M332.27,369.5v-1.3M332.27,215.5v1.3M341.74,369.5v-1.3M341.74,215.5v1.3M348.46,369.5v-1.3M348.46,215.5v1.3M353.67,369.5v-1.3M353.67,215.5v1.3M357.93,369.5v-1.3M357.93,215.5v1.3M361.53,369.5v-1.3M361.53,215.5v1.3M364.65,369.5v-1.3M364.65,215.5v1.3M367.4,369.5v-1.3M367.4,215.5v1.3M369.86,369.5v-2.4M369.86,215.5v2.4M386.05,369.5v-1.3M386.05,215.5v1.3M395.52,369.5v-1.3M395.52,215.5v1.3M402.24,369.5v-1.3M402.24,215.5v1.3M407.45,369.5v-1.3M407.45,215.5v1.3M411.71,369.5v-1.3M411.71,215.5v1.3M415.31,369.5v-1.3M415.31,215.5v1.3M418.43,369.5v-1.3M418.43,215.5v1.3M421.18,369.5v-1.3M421.18,215.5v1.3M423.64,369.5v-2.4M423.64,215.5v2.4M259.5,369.5h1.9M439.5,369.5h-1.9M259.5,355.5h1M439.5,355.5h-1M259.5,347.31h1M439.5,347.31h-1M259.5,341.5h1M439.5,341.5h-1M259.5,337h1M439.5,337h-1M259.5,333.32h1M439.5,333.32h-1M259.5,330.2h1M439.5,330.2h-1M259.5,327.51h1M439.5,327.51h-1M259.5,325.13h1M439.5,325.13h-1M259.5,323h1.9M439.5,323h-1.9M259.5,309h1M439.5,309h-1M259.5,300.81h1M439.5,300.81h-1M259.5,295h1M439.5,295h-1M259.5,290.5h1M439.5,290.5h-1M259.5,286.82h1M439.5,286.82h-1M259.5,283.7h1M439.5,283.7h-1M259.5,281.01h1M439.5,281.01h-1M259.5,278.63h1M439.5,278.63h-1M259.5,276.5h1.9M439.5,276.5h-1.9M259.5,262.5h1M439.5,262.5h-1M259.5,254.31h1M439.5,254.31h-1M259.5,248.5h1M439.5,248.5h-1M259.5,244h1M439.5,244h-1M259.5,240.32h1M439.5,240.32h-1M259.5,237.2h1M439.5,237.2h-1M259.5,234.51h1M439.5,234.51h-1M259.5,232.13h1M439.5,232.13h-1M259.5,230h1.9M439.5,230h-1.9M259.5,216h1M439.5,216h-1" stroke="#2a2a2a" stroke-width="0.75" fill="none"/>
<text x="43.4" y="384.2" font-family='"Liberation Sans", sans-serif' font-size="11.3" font-weight="normal" font-style="normal" text-anchor="middle" >10<tspan font-size="9.6" dy="-6.2">0</tspan></text>
<text x="97.18" y="384.2" font-family='"Liberation Sans", sans-serif' font-size="11.3" font-weight="normal" font-style="normal" text-anchor="middle" >10<tspan font-size="9.6" dy="-6.2">1</tspan></text>
<text x="150.96" y="384.2" font-family='"Liberation Sans", sans-serif' font-size="11.3" font-weight="normal" font-style="normal" text-anchor="middle" >10<tspan font-size="9.6" dy="-6.2">2</tspan></text>
<text x="204.74" y="384.2" font-family='"Liberation Sans", sans-serif' font-size="11.3" font-weight="normal" font-style="normal" text-anchor="middle" >10<tspan font-size="9.6" dy="-6.2">3</tspan></text>
<text x="263.4" y="384.2" font-family='"Liberation Sans", sans-serif' font-size="11.3" font-weight="normal" font-style="normal" text-anchor="middle" >10<tspan font-size="9.6" dy="-6.2">0</tspan></text>
<text x="317.18" y="384.2" font-family='"Liberation Sans", sans-serif' font-size="11.3" font-weight="normal" font-style="normal" text-anchor="middle" >10<tspan font-size="9.6" dy="-6.2">1</tspan></text>
<text x="370.96" y="384.2" font-family='"Liberation Sans", sans-serif' font-size="11.3" font-weight="normal" font-style="normal" text-anchor="middle" >10<tspan font-size="9.6" dy="-6.2">2</tspan></text>
<text x="424.74" y="384.2" font-family='"Liberation Sans", sans-serif' font-size="11.3" font-weight="normal" font-style="normal" text-anchor="middle" >10<tspan font-size="9.6" dy="-6.2">3</tspan></text>
<text x="37.4" y="374.3" font-family='"Liberation Sans", sans-serif' font-size="11.3" font-weight="normal" font-style="normal" text-anchor="end" >10<tspan font-size="9.6" dy="-6.2">0</tspan></text>
<text x="37.4" y="281.8" font-family='"Liberation Sans", sans-serif' font-size="11.3" font-weight="normal" font-style="normal" text-anchor="end" >10<tspan font-size="9.6" dy="-6.2">2</tspan></text>
<text x="130" y="398.8" font-family='"Liberation Sans", sans-serif' font-size="12.5" font-weight="normal" font-style="italic" text-anchor="middle" ><tspan font-family='"Liberation Serif", serif' font-size="14.5">τ</tspan> <tspan font-style="normal">[</tspan><tspan font-family='"Liberation Serif", serif' font-size="13.5">δ</tspan><tspan dx="0.8">t</tspan><tspan font-style="normal" dx="0.8">]</tspan></text>
<text x="350" y="398.8" font-family='"Liberation Sans", sans-serif' font-size="12.5" font-weight="normal" font-style="italic" text-anchor="middle" ><tspan font-family='"Liberation Serif", serif' font-size="14.5">τ</tspan> <tspan font-style="normal">[</tspan><tspan font-family='"Liberation Serif", serif' font-size="13.5">δ</tspan><tspan dx="0.8">t</tspan><tspan font-style="normal" dx="0.8">]</tspan></text>
<g transform="translate(13.7,290.3) rotate(-90)"><text x="0" y="0" font-family='"Liberation Sans", "DejaVu Sans", sans-serif' font-size="12.0" font-weight="normal" font-style="normal" text-anchor="middle" word-spacing="0.3"><tspan font-size="15" dy="-0.8">⟨</tspan><tspan font-size="15" dx="2.2">|</tspan><tspan font-weight="bold" dy="0.8">r</tspan>(<tspan font-style="italic">t</tspan>) - <tspan font-weight="bold">r</tspan>(<tspan font-style="italic">t</tspan>-<tspan font-style="italic" font-family='"Liberation Serif", serif'>τ</tspan>)<tspan font-size="15" dy="-0.8">|</tspan><tspan font-size="8.8" dy="-5.4">2</tspan><tspan font-size="15" dy="5.4" dx="2.2">⟩</tspan></text></g>
<line x1="52" y1="232" x2="67" y2="232" stroke="#46287f" stroke-width="1.8"/>
<text x="70.2" y="234.8" font-family='"Liberation Sans", sans-serif' font-size="10.7" font-weight="normal" font-style="normal" text-anchor="start" >-0.30</text>
<line x1="52" y1="245.1" x2="67" y2="245.1" stroke="#36509c" stroke-width="1.8"/>
<text x="70.2" y="247.9" font-family='"Liberation Sans", sans-serif' font-size="10.7" font-weight="normal" font-style="normal" text-anchor="start" >-0.10</text>
<line x1="52" y1="258.2" x2="67" y2="258.2" stroke="#2b7d9e" stroke-width="1.8"/>
<text x="70.2" y="261" font-family='"Liberation Sans", sans-serif' font-size="10.7" font-weight="normal" font-style="normal" text-anchor="start" >-0.01</text>
<line x1="52" y1="271.3" x2="67" y2="271.3" stroke="#22918f" stroke-width="1.8"/>
<text x="70.2" y="274.1" font-family='"Liberation Sans", sans-serif' font-size="10.7" font-weight="normal" font-style="normal" text-anchor="start" >0.00</text>
<line x1="272.5" y1="231.7" x2="287.2" y2="231.7" stroke="#22918f" stroke-width="1.8"/>
<text x="290.6" y="234.6" font-family='"Liberation Sans", sans-serif' font-size="10.7" font-weight="normal" font-style="normal" text-anchor="start" >0.00</text>
<line x1="272.5" y1="244.8" x2="287.2" y2="244.8" stroke="#25a585" stroke-width="1.8"/>
<text x="290.6" y="247.7" font-family='"Liberation Sans", sans-serif' font-size="10.7" font-weight="normal" font-style="normal" text-anchor="start" >0.01</text>
<line x1="272.5" y1="257.9" x2="287.2" y2="257.9" stroke="#55c667" stroke-width="1.8"/>
<text x="290.6" y="260.8" font-family='"Liberation Sans", sans-serif' font-size="10.7" font-weight="normal" font-style="normal" text-anchor="start" >0.10</text>
<line x1="272.5" y1="271" x2="287.2" y2="271" stroke="#b4de2c" stroke-width="1.8"/>
<text x="290.6" y="273.9" font-family='"Liberation Sans", sans-serif' font-size="10.7" font-weight="normal" font-style="normal" text-anchor="start" >0.30</text>
<line x1="505" y1="362.3" x2="684.5" y2="362.3" stroke="#9c9c94" stroke-width="2.0" stroke-dasharray="9.75,5.56"/>
<line x1="505" y1="294" x2="684.5" y2="294" stroke="#9c9c94" stroke-width="2.0" stroke-dasharray="9.75,5.56"/>
<line x1="505" y1="225.7" x2="684.5" y2="225.7" stroke="#9c9c94" stroke-width="2.0" stroke-dasharray="9.75,5.56"/>
<circle cx="521.3" cy="226.6" r="4.2" fill="#0d57c4"/>
<circle cx="523.6" cy="226.9" r="4.2" fill="#0d57c4"/>
<circle cx="525.2" cy="232.4" r="4.2" fill="#0d57c4"/>
<circle cx="527.4" cy="257.5" r="4.2" fill="#0d57c4"/>
<circle cx="529.2" cy="293" r="4.2" fill="#0d57c4"/>
<circle cx="532.4" cy="293.3" r="4.2" fill="#0d57c4"/>
<circle cx="535.8" cy="294" r="4.2" fill="#0d57c4"/>
<circle cx="538.8" cy="294.9" r="4.2" fill="#0d57c4"/>
<circle cx="541.6" cy="296" r="4.2" fill="#0d57c4"/>
<circle cx="544.9" cy="298.2" r="4.2" fill="#0d57c4"/>
<circle cx="547.7" cy="300.5" r="4.2" fill="#0d57c4"/>
<circle cx="549.9" cy="303.3" r="4.2" fill="#0d57c4"/>
<circle cx="551.9" cy="306.1" r="4.2" fill="#0d57c4"/>
<circle cx="553.5" cy="309.4" r="4.2" fill="#0d57c4"/>
<circle cx="555.2" cy="318.6" r="4.2" fill="#0d57c4"/>
<circle cx="557.1" cy="332" r="4.2" fill="#0d57c4"/>
<circle cx="559.1" cy="346" r="4.2" fill="#0d57c4"/>
<circle cx="561" cy="357.4" r="4.2" fill="#0d57c4"/>
<circle cx="562.7" cy="362.6" r="4.2" fill="#0d57c4"/>
<circle cx="564.6" cy="358" r="4.2" fill="#0d57c4"/>
<circle cx="566.6" cy="350.2" r="4.2" fill="#0d57c4"/>
<circle cx="568.2" cy="341.3" r="4.2" fill="#0d57c4"/>
<circle cx="569.9" cy="333" r="4.2" fill="#0d57c4"/>
<circle cx="571.8" cy="328.8" r="4.2" fill="#0d57c4"/>
<circle cx="573.6" cy="324.8" r="4.2" fill="#0d57c4"/>
<circle cx="575.5" cy="321.2" r="4.2" fill="#0d57c4"/>
<circle cx="577.5" cy="317.7" r="4.2" fill="#0d57c4"/>
<circle cx="579.3" cy="314.8" r="4.2" fill="#0d57c4"/>
<circle cx="582" cy="310.9" r="4.2" fill="#0d57c4"/>
<circle cx="600.1" cy="303" r="4.2" fill="#0d57c4"/>
<circle cx="618.9" cy="300.4" r="4.2" fill="#0d57c4"/>
<circle cx="637.6" cy="297.4" r="4.2" fill="#0d57c4"/>
<circle cx="656.4" cy="298.3" r="4.2" fill="#0d57c4"/>
<circle cx="675.2" cy="297.9" r="4.2" fill="#0d57c4"/>
<rect x="504.5" y="215.5" width="180" height="154" fill="none" stroke="#2a2a2a" stroke-width="0.9"/>
<path d="M525.5,369.5v-2.4M525.5,215.5v2.4M562.9,369.5v-2.4M562.9,215.5v2.4M600.3,369.5v-2.4M600.3,215.5v2.4M637.7,369.5v-2.4M637.7,215.5v2.4M675.1,369.5v-2.4M675.1,215.5v2.4M504.5,362.3h2.4M684.5,362.3h-2.4M504.5,328.15h2.4M684.5,328.15h-2.4M504.5,294h2.4M684.5,294h-2.4M504.5,259.85h2.4M684.5,259.85h-2.4M504.5,225.7h2.4M684.5,225.7h-2.4" stroke="#2a2a2a" stroke-width="0.7" fill="none"/>
<text x="525.1" y="381" font-family='"Liberation Sans", sans-serif' font-size="11.4" font-weight="normal" font-style="normal" text-anchor="middle" >-0.2</text>
<text x="563.2" y="381" font-family='"Liberation Sans", sans-serif' font-size="11.4" font-weight="normal" font-style="normal" text-anchor="middle" >0</text>
<text x="600.6" y="381" font-family='"Liberation Sans", sans-serif' font-size="11.4" font-weight="normal" font-style="normal" text-anchor="middle" >0.2</text>
<text x="638" y="381" font-family='"Liberation Sans", sans-serif' font-size="11.4" font-weight="normal" font-style="normal" text-anchor="middle" >0.4</text>
<text x="675.4" y="381" font-family='"Liberation Sans", sans-serif' font-size="11.4" font-weight="normal" font-style="normal" text-anchor="middle" >0.6</text>
<text x="501.4" y="366" font-family='"Liberation Sans", sans-serif' font-size="11.4" font-weight="normal" font-style="normal" text-anchor="end" >0</text>
<text x="501.4" y="331.85" font-family='"Liberation Sans", sans-serif' font-size="11.4" font-weight="normal" font-style="normal" text-anchor="end" >0.5</text>
<text x="501.4" y="297.7" font-family='"Liberation Sans", sans-serif' font-size="11.4" font-weight="normal" font-style="normal" text-anchor="end" >1</text>
<text x="501.4" y="263.55" font-family='"Liberation Sans", sans-serif' font-size="11.4" font-weight="normal" font-style="normal" text-anchor="end" >1.5</text>
<text x="501.4" y="229.4" font-family='"Liberation Sans", sans-serif' font-size="11.4" font-weight="normal" font-style="normal" text-anchor="end" >2</text>
<text x="594.8" y="396.2" font-family='"Liberation Serif", serif' font-size="13" font-weight="normal" font-style="normal" text-anchor="middle" >Γ</text>
<g transform="translate(485.2,293.6) rotate(-90)"><text x="0" y="0" font-family='"Liberation Serif", serif' font-size="12" font-weight="normal" font-style="normal" text-anchor="middle" >α</text></g>
</svg>
</body></html>
